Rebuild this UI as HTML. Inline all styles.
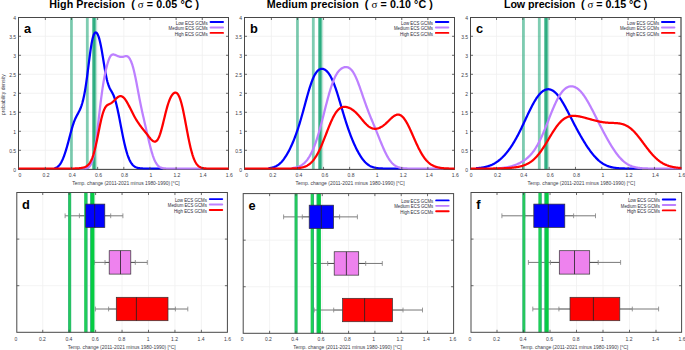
<!DOCTYPE html>
<html><head><meta charset="utf-8"><style>
html,body{margin:0;padding:0;background:#fff;}
svg{display:block;font-family:"Liberation Sans", sans-serif;}
</style></head><body>
<svg width="685" height="350" viewBox="0 0 685 350">
<rect width="685" height="350" fill="#fff"/>
<line x1="45.35" y1="17.5" x2="45.35" y2="169.4" stroke="#f0f0f0" stroke-width="0.8"/>
<line x1="71.50" y1="17.5" x2="71.50" y2="169.4" stroke="#f0f0f0" stroke-width="0.8"/>
<line x1="97.65" y1="17.5" x2="97.65" y2="169.4" stroke="#f0f0f0" stroke-width="0.8"/>
<line x1="123.80" y1="17.5" x2="123.80" y2="169.4" stroke="#f0f0f0" stroke-width="0.8"/>
<line x1="149.95" y1="17.5" x2="149.95" y2="169.4" stroke="#f0f0f0" stroke-width="0.8"/>
<line x1="176.10" y1="17.5" x2="176.10" y2="169.4" stroke="#f0f0f0" stroke-width="0.8"/>
<line x1="202.25" y1="17.5" x2="202.25" y2="169.4" stroke="#f0f0f0" stroke-width="0.8"/>
<line x1="18.5" y1="150.30" x2="228.5" y2="150.30" stroke="#f0f0f0" stroke-width="0.8"/>
<line x1="18.5" y1="131.30" x2="228.5" y2="131.30" stroke="#f0f0f0" stroke-width="0.8"/>
<line x1="18.5" y1="112.30" x2="228.5" y2="112.30" stroke="#f0f0f0" stroke-width="0.8"/>
<line x1="18.5" y1="93.30" x2="228.5" y2="93.30" stroke="#f0f0f0" stroke-width="0.8"/>
<line x1="18.5" y1="74.30" x2="228.5" y2="74.30" stroke="#f0f0f0" stroke-width="0.8"/>
<line x1="18.5" y1="55.30" x2="228.5" y2="55.30" stroke="#f0f0f0" stroke-width="0.8"/>
<line x1="18.5" y1="36.30" x2="228.5" y2="36.30" stroke="#f0f0f0" stroke-width="0.8"/>
<rect x="70.05" y="17.5" width="2.8" height="151.9" fill="#009b65" fill-opacity="0.5"/>
<rect x="85.90" y="17.5" width="2.8" height="151.9" fill="#009b65" fill-opacity="0.5"/>
<rect x="92.00" y="17.5" width="2.6" height="151.9" fill="#009b65" fill-opacity="0.5"/>
<rect x="92.80" y="17.5" width="2.6" height="151.9" fill="#009b65" fill-opacity="0.5"/>
<rect x="93.70" y="17.5" width="2.8" height="151.9" fill="#009b65" fill-opacity="0.5"/>
<rect x="18.5" y="17.5" width="210.00" height="151.90" fill="none" stroke="#484848" stroke-width="1"/>
<path d="M54.50,168.17 L55.00,168.04 L55.50,167.88 L56.00,167.69 L56.50,167.46 L57.00,167.19 L57.50,166.86 L58.00,166.48 L58.50,166.04 L59.00,165.52 L59.50,164.94 L60.00,164.28 L60.50,163.55 L61.00,162.73 L61.50,161.83 L62.00,160.85 L62.50,159.78 L63.00,158.63 L63.50,157.40 L64.00,156.10 L64.50,154.71 L65.00,153.25 L65.50,151.71 L66.00,150.11 L66.50,148.44 L67.00,146.71 L67.50,144.92 L68.00,143.09 L68.50,141.22 L69.00,139.32 L69.50,137.40 L70.00,135.49 L70.50,133.58 L71.00,131.71 L71.50,129.89 L72.00,128.13 L72.50,126.44 L73.00,124.84 L73.50,123.33 L74.00,121.93 L74.50,120.62 L75.00,119.41 L75.50,118.29 L76.00,117.24 L76.50,116.25 L77.00,115.30 L77.50,114.38 L78.00,113.46 L78.50,112.53 L79.00,111.56 L79.50,110.54 L80.00,109.44 L80.50,108.26 L81.00,106.98 L81.50,105.57 L82.00,104.01 L82.50,102.30 L83.00,100.40 L83.50,98.31 L84.00,96.00 L84.50,93.46 L85.00,90.68 L85.50,87.67 L86.00,84.42 L86.50,80.95 L87.00,77.29 L87.50,73.48 L88.00,69.56 L88.50,65.59 L89.00,61.63 L89.50,57.74 L90.00,53.98 L90.50,50.42 L91.00,47.10 L91.50,44.08 L92.00,41.40 L92.50,39.06 L93.00,37.09 L93.50,35.49 L94.00,34.24 L94.50,33.34 L95.00,32.76 L95.50,32.49 L96.00,32.50 L96.50,32.77 L97.00,33.31 L97.50,34.09 L98.00,35.12 L98.50,36.39 L99.00,37.91 L99.50,39.68 L100.00,41.68 L100.50,43.93 L101.00,46.39 L101.50,49.06 L102.00,51.90 L102.50,54.87 L103.00,57.93 L103.50,61.03 L104.00,64.13 L104.50,67.16 L105.00,70.10 L105.50,72.88 L106.00,75.48 L106.50,77.88 L107.00,80.05 L107.50,81.99 L108.00,83.71 L108.50,85.21 L109.00,86.52 L109.50,87.67 L110.00,88.69 L110.50,89.62 L111.00,90.49 L111.50,91.34 L112.00,92.22 L112.50,93.14 L113.00,94.15 L113.50,95.25 L114.00,96.49 L114.50,97.85 L115.00,99.37 L115.50,101.03 L116.00,102.84 L116.50,104.80 L117.00,106.89 L117.50,109.11 L118.00,111.43 L118.50,113.85 L119.00,116.34 L119.50,118.89 L120.00,121.48 L120.50,124.09 L121.00,126.70 L121.50,129.30 L122.00,131.87 L122.50,134.39 L123.00,136.85 L123.50,139.23 L124.00,141.54 L124.50,143.75 L125.00,145.86 L125.50,147.87 L126.00,149.76 L126.50,151.54 L127.00,153.21 L127.50,154.77 L128.00,156.21 L128.50,157.54 L129.00,158.76 L129.50,159.88 L130.00,160.90 L130.50,161.82 L131.00,162.66 L131.50,163.41 L132.00,164.08 L132.50,164.68 L133.00,165.21 L133.50,165.68 L134.00,166.09 L134.50,166.45 L135.00,166.77 L135.50,167.05 L136.00,167.28 L136.50,167.49 L137.00,167.67 L137.50,167.82 L138.00,167.95 L138.50,168.06 L139.00,168.15 L139.50,168.23 L140.00,168.30 L140.50,168.35 L141.00,168.40 L141.50,168.43 L142.00,168.47 L142.50,168.49 L143.00,168.51 L143.50,168.53 L144.00,168.54 L144.50,168.56 L145.00,168.56 L145.50,168.57 L146.00,168.58 L146.50,168.58 L147.00,168.59 L147.50,168.59 L148.00,168.59 L148.50,168.59 L149.00,168.60 L149.50,168.60 L150.00,168.60 L150.50,168.60 L151.00,168.60 L151.50,168.60 L152.00,168.60 L152.50,168.60 L153.00,168.60 L153.50,168.60 L154.00,168.60 L154.50,168.60 L155.00,168.60 L155.50,168.60 L156.00,168.60 L156.50,168.60 L157.00,168.60 L157.50,168.60 L158.00,168.60 L158.50,168.60 L159.00,168.60 L159.50,168.60 L160.00,168.60 L160.50,168.60 L161.00,168.60 L161.50,168.60 L162.00,168.60 L162.50,168.60 L163.00,168.60" fill="none" stroke="#0000ff" stroke-width="2.25" stroke-linejoin="round"/>
<path d="M79.50,168.60 L80.00,168.60 L80.50,168.60 L81.00,168.59 L81.50,168.59 L82.00,168.58 L82.50,168.58 L83.00,168.57 L83.50,168.55 L84.00,168.53 L84.50,168.50 L85.00,168.46 L85.50,168.40 L86.00,168.32 L86.50,168.21 L87.00,168.07 L87.50,167.88 L88.00,167.64 L88.50,167.32 L89.00,166.92 L89.50,166.42 L90.00,165.80 L90.50,165.03 L91.00,164.09 L91.50,162.97 L92.00,161.63 L92.50,160.05 L93.00,158.23 L93.50,156.13 L94.00,153.74 L94.50,151.07 L95.00,148.11 L95.50,144.86 L96.00,141.35 L96.50,137.60 L97.00,133.64 L97.50,129.51 L98.00,125.25 L98.50,120.91 L99.00,116.53 L99.50,112.18 L100.00,107.89 L100.50,103.71 L101.00,99.67 L101.50,95.80 L102.00,92.12 L102.50,88.64 L103.00,85.37 L103.50,82.29 L104.00,79.41 L104.50,76.71 L105.00,74.17 L105.50,71.79 L106.00,69.56 L106.50,67.47 L107.00,65.51 L107.50,63.70 L108.00,62.03 L108.50,60.52 L109.00,59.17 L109.50,57.99 L110.00,56.99 L110.50,56.17 L111.00,55.52 L111.50,55.04 L112.00,54.71 L112.50,54.52 L113.00,54.45 L113.50,54.47 L114.00,54.57 L114.50,54.72 L115.00,54.91 L115.50,55.12 L116.00,55.34 L116.50,55.56 L117.00,55.77 L117.50,55.98 L118.00,56.18 L118.50,56.36 L119.00,56.53 L119.50,56.67 L120.00,56.80 L120.50,56.89 L121.00,56.95 L121.50,56.97 L122.00,56.95 L122.50,56.89 L123.00,56.79 L123.50,56.67 L124.00,56.52 L124.50,56.38 L125.00,56.24 L125.50,56.14 L126.00,56.09 L126.50,56.10 L127.00,56.20 L127.50,56.39 L128.00,56.70 L128.50,57.13 L129.00,57.68 L129.50,58.37 L130.00,59.19 L130.50,60.16 L131.00,61.27 L131.50,62.52 L132.00,63.92 L132.50,65.47 L133.00,67.17 L133.50,69.01 L134.00,71.00 L134.50,73.14 L135.00,75.40 L135.50,77.77 L136.00,80.25 L136.50,82.81 L137.00,85.43 L137.50,88.09 L138.00,90.76 L138.50,93.43 L139.00,96.08 L139.50,98.70 L140.00,101.26 L140.50,103.76 L141.00,106.21 L141.50,108.59 L142.00,110.91 L142.50,113.19 L143.00,115.42 L143.50,117.62 L144.00,119.81 L144.50,121.97 L145.00,124.14 L145.50,126.30 L146.00,128.47 L146.50,130.65 L147.00,132.82 L147.50,135.00 L148.00,137.16 L148.50,139.30 L149.00,141.42 L149.50,143.50 L150.00,145.52 L150.50,147.48 L151.00,149.37 L151.50,151.18 L152.00,152.90 L152.50,154.52 L153.00,156.04 L153.50,157.45 L154.00,158.76 L154.50,159.96 L155.00,161.05 L155.50,162.04 L156.00,162.93 L156.50,163.73 L157.00,164.43 L157.50,165.06 L158.00,165.60 L158.50,166.08 L159.00,166.49 L159.50,166.84 L160.00,167.15 L160.50,167.40 L161.00,167.62 L161.50,167.80 L162.00,167.95 L162.50,168.08 L163.00,168.18 L163.50,168.27 L164.00,168.34 L164.50,168.39 L165.00,168.44 L165.50,168.47 L166.00,168.50 L166.50,168.52 L167.00,168.54 L167.50,168.56 L168.00,168.57 L168.50,168.57 L169.00,168.58 L169.50,168.59 L170.00,168.59 L170.50,168.59 L171.00,168.59 L171.50,168.60 L172.00,168.60 L172.50,168.60 L173.00,168.60 L173.50,168.60 L174.00,168.60 L174.50,168.60 L175.00,168.60 L175.50,168.60 L176.00,168.60 L176.50,168.60 L177.00,168.60 L177.50,168.60 L178.00,168.60 L178.50,168.60 L179.00,168.60 L179.50,168.60 L180.00,168.60 L180.50,168.60 L181.00,168.60 L181.50,168.60 L182.00,168.60 L182.50,168.60 L183.00,168.60 L183.50,168.60 L184.00,168.60 L184.50,168.60 L185.00,168.60 L185.50,168.60 L186.00,168.60 L186.50,168.60 L187.00,168.60 L187.50,168.60 L188.00,168.60 L188.50,168.60 L189.00,168.60 L189.50,168.60 L190.00,168.60 L190.50,168.60 L191.00,168.60 L191.50,168.60 L192.00,168.60 L192.50,168.60 L193.00,168.60 L193.50,168.60 L194.00,168.60 L194.50,168.60 L195.00,168.60 L195.50,168.60 L196.00,168.60 L196.50,168.60 L197.00,168.60 L197.50,168.60 L198.00,168.60 L198.50,168.60 L199.00,168.60 L199.50,168.60 L200.00,168.60 L200.50,168.60 L201.00,168.60 L201.50,168.60 L202.00,168.60 L202.50,168.60 L203.00,168.60 L203.50,168.60" fill="none" stroke="#bd80ff" stroke-width="2.25" stroke-linejoin="round"/>
<path d="M18.50,168.60 L19.00,168.60 L19.50,168.60 L20.00,168.60 L20.50,168.60 L21.00,168.60 L21.50,168.60 L22.00,168.60 L22.50,168.60 L23.00,168.60 L23.50,168.60 L24.00,168.60 L24.50,168.60 L25.00,168.60 L25.50,168.60 L26.00,168.60 L26.50,168.60 L27.00,168.60 L27.50,168.60 L28.00,168.60 L28.50,168.60 L29.00,168.60 L29.50,168.60 L30.00,168.60 L30.50,168.60 L31.00,168.60 L31.50,168.60 L32.00,168.60 L32.50,168.60 L33.00,168.60 L33.50,168.60 L34.00,168.60 L34.50,168.60 L35.00,168.60 L35.50,168.60 L36.00,168.60 L36.50,168.60 L37.00,168.60 L37.50,168.60 L38.00,168.60 L38.50,168.60 L39.00,168.60 L39.50,168.60 L40.00,168.60 L40.50,168.60 L41.00,168.60 L41.50,168.60 L42.00,168.60 L42.50,168.60 L43.00,168.60 L43.50,168.60 L44.00,168.60 L44.50,168.60 L45.00,168.60 L45.50,168.60 L46.00,168.60 L46.50,168.60 L47.00,168.60 L47.50,168.60 L48.00,168.60 L48.50,168.60 L49.00,168.60 L49.50,168.60 L50.00,168.60 L50.50,168.60 L51.00,168.60 L51.50,168.60 L52.00,168.60 L52.50,168.60 L53.00,168.60 L53.50,168.60 L54.00,168.60 L54.50,168.60 L55.00,168.60 L55.50,168.60 L56.00,168.60 L56.50,168.60 L57.00,168.60 L57.50,168.60 L58.00,168.60 L58.50,168.60 L59.00,168.60 L59.50,168.60 L60.00,168.60 L60.50,168.60 L61.00,168.60 L61.50,168.60 L62.00,168.60 L62.50,168.60 L63.00,168.60 L63.50,168.60 L64.00,168.60 L64.50,168.60 L65.00,168.60 L65.50,168.59 L66.00,168.59 L66.50,168.59 L67.00,168.59 L67.50,168.59 L68.00,168.59 L68.50,168.59 L69.00,168.58 L69.50,168.58 L70.00,168.58 L70.50,168.57 L71.00,168.57 L71.50,168.56 L72.00,168.56 L72.50,168.55 L73.00,168.54 L73.50,168.53 L74.00,168.52 L74.50,168.51 L75.00,168.49 L75.50,168.47 L76.00,168.46 L76.50,168.43 L77.00,168.41 L77.50,168.38 L78.00,168.35 L78.50,168.31 L79.00,168.27 L79.50,168.22 L80.00,168.17 L80.50,168.11 L81.00,168.04 L81.50,167.96 L82.00,167.87 L82.50,167.77 L83.00,167.65 L83.50,167.52 L84.00,167.37 L84.50,167.20 L85.00,167.00 L85.50,166.78 L86.00,166.52 L86.50,166.23 L87.00,165.89 L87.50,165.50 L88.00,165.06 L88.50,164.56 L89.00,163.99 L89.50,163.33 L90.00,162.59 L90.50,161.76 L91.00,160.82 L91.50,159.77 L92.00,158.61 L92.50,157.31 L93.00,155.89 L93.50,154.33 L94.00,152.64 L94.50,150.82 L95.00,148.86 L95.50,146.78 L96.00,144.59 L96.50,142.30 L97.00,139.92 L97.50,137.48 L98.00,134.99 L98.50,132.48 L99.00,129.98 L99.50,127.50 L100.00,125.08 L100.50,122.73 L101.00,120.48 L101.50,118.36 L102.00,116.38 L102.50,114.55 L103.00,112.88 L103.50,111.39 L104.00,110.07 L104.50,108.92 L105.00,107.94 L105.50,107.11 L106.00,106.41 L106.50,105.84 L107.00,105.38 L107.50,105.00 L108.00,104.68 L108.50,104.41 L109.00,104.16 L109.50,103.93 L110.00,103.69 L110.50,103.44 L111.00,103.16 L111.50,102.84 L112.00,102.50 L112.50,102.11 L113.00,101.69 L113.50,101.23 L114.00,100.75 L114.50,100.25 L115.00,99.75 L115.50,99.24 L116.00,98.74 L116.50,98.26 L117.00,97.80 L117.50,97.39 L118.00,97.02 L118.50,96.71 L119.00,96.45 L119.50,96.26 L120.00,96.15 L120.50,96.10 L121.00,96.14 L121.50,96.25 L122.00,96.44 L122.50,96.71 L123.00,97.06 L123.50,97.48 L124.00,97.97 L124.50,98.53 L125.00,99.15 L125.50,99.84 L126.00,100.58 L126.50,101.37 L127.00,102.20 L127.50,103.08 L128.00,103.99 L128.50,104.93 L129.00,105.89 L129.50,106.87 L130.00,107.86 L130.50,108.86 L131.00,109.86 L131.50,110.87 L132.00,111.86 L132.50,112.85 L133.00,113.83 L133.50,114.79 L134.00,115.73 L134.50,116.66 L135.00,117.56 L135.50,118.44 L136.00,119.30 L136.50,120.13 L137.00,120.94 L137.50,121.73 L138.00,122.49 L138.50,123.23 L139.00,123.95 L139.50,124.66 L140.00,125.34 L140.50,126.01 L141.00,126.67 L141.50,127.32 L142.00,127.96 L142.50,128.59 L143.00,129.22 L143.50,129.84 L144.00,130.47 L144.50,131.09 L145.00,131.72 L145.50,132.35 L146.00,132.99 L146.50,133.63 L147.00,134.27 L147.50,134.91 L148.00,135.56 L148.50,136.20 L149.00,136.83 L149.50,137.45 L150.00,138.06 L150.50,138.65 L151.00,139.21 L151.50,139.73 L152.00,140.21 L152.50,140.64 L153.00,141.01 L153.50,141.30 L154.00,141.51 L154.50,141.63 L155.00,141.64 L155.50,141.54 L156.00,141.31 L156.50,140.95 L157.00,140.45 L157.50,139.81 L158.00,139.01 L158.50,138.07 L159.00,136.97 L159.50,135.73 L160.00,134.34 L160.50,132.81 L161.00,131.17 L161.50,129.41 L162.00,127.55 L162.50,125.61 L163.00,123.61 L163.50,121.57 L164.00,119.50 L164.50,117.43 L165.00,115.37 L165.50,113.35 L166.00,111.38 L166.50,109.48 L167.00,107.66 L167.50,105.92 L168.00,104.29 L168.50,102.76 L169.00,101.33 L169.50,100.02 L170.00,98.82 L170.50,97.74 L171.00,96.76 L171.50,95.88 L172.00,95.11 L172.50,94.45 L173.00,93.88 L173.50,93.42 L174.00,93.06 L174.50,92.80 L175.00,92.66 L175.50,92.62 L176.00,92.71 L176.50,92.93 L177.00,93.28 L177.50,93.78 L178.00,94.42 L178.50,95.23 L179.00,96.20 L179.50,97.33 L180.00,98.63 L180.50,100.11 L181.00,101.75 L181.50,103.55 L182.00,105.51 L182.50,107.61 L183.00,109.84 L183.50,112.19 L184.00,114.64 L184.50,117.17 L185.00,119.77 L185.50,122.42 L186.00,125.09 L186.50,127.77 L187.00,130.44 L187.50,133.08 L188.00,135.67 L188.50,138.19 L189.00,140.64 L189.50,143.00 L190.00,145.25 L190.50,147.40 L191.00,149.43 L191.50,151.34 L192.00,153.12 L192.50,154.78 L193.00,156.31 L193.50,157.72 L194.00,159.01 L194.50,160.18 L195.00,161.24 L195.50,162.20 L196.00,163.05 L196.50,163.81 L197.00,164.49 L197.50,165.08 L198.00,165.60 L198.50,166.06 L199.00,166.45 L199.50,166.79 L200.00,167.09 L200.50,167.34 L201.00,167.55 L201.50,167.73 L202.00,167.89 L202.50,168.02 L203.00,168.12 L203.50,168.21 L204.00,168.29 L204.50,168.35 L205.00,168.40 L205.50,168.44 L206.00,168.47 L206.50,168.50 L207.00,168.52 L207.50,168.54 L208.00,168.55 L208.50,168.56 L209.00,168.57 L209.50,168.58 L210.00,168.58 L210.50,168.59 L211.00,168.59 L211.50,168.59 L212.00,168.59 L212.50,168.60 L213.00,168.60 L213.50,168.60 L214.00,168.60 L214.50,168.60 L215.00,168.60 L215.50,168.60 L216.00,168.60 L216.50,168.60 L217.00,168.60 L217.50,168.60 L218.00,168.60 L218.50,168.60 L219.00,168.60 L219.50,168.60 L220.00,168.60 L220.50,168.60 L221.00,168.60 L221.50,168.60 L222.00,168.60 L222.50,168.60 L223.00,168.60 L223.50,168.60 L224.00,168.60 L224.50,168.60 L225.00,168.60 L225.50,168.60 L226.00,168.60 L226.50,168.60 L227.00,168.60 L227.50,168.60 L228.00,168.60 L228.50,168.60 L229.00,168.60" fill="none" stroke="#ff0000" stroke-width="2.25" stroke-linejoin="round"/>
<rect x="18.5" y="17.5" width="210.00" height="151.90" fill="none" stroke="#484848" stroke-width="1" stroke-opacity="0.45"/>
<line x1="45.35" y1="169.4" x2="45.35" y2="166.9" stroke="#484848" stroke-width="0.8"/>
<line x1="45.35" y1="17.5" x2="45.35" y2="20.0" stroke="#484848" stroke-width="0.8"/>
<line x1="71.50" y1="169.4" x2="71.50" y2="166.9" stroke="#484848" stroke-width="0.8"/>
<line x1="71.50" y1="17.5" x2="71.50" y2="20.0" stroke="#484848" stroke-width="0.8"/>
<line x1="97.65" y1="169.4" x2="97.65" y2="166.9" stroke="#484848" stroke-width="0.8"/>
<line x1="97.65" y1="17.5" x2="97.65" y2="20.0" stroke="#484848" stroke-width="0.8"/>
<line x1="123.80" y1="169.4" x2="123.80" y2="166.9" stroke="#484848" stroke-width="0.8"/>
<line x1="123.80" y1="17.5" x2="123.80" y2="20.0" stroke="#484848" stroke-width="0.8"/>
<line x1="149.95" y1="169.4" x2="149.95" y2="166.9" stroke="#484848" stroke-width="0.8"/>
<line x1="149.95" y1="17.5" x2="149.95" y2="20.0" stroke="#484848" stroke-width="0.8"/>
<line x1="176.10" y1="169.4" x2="176.10" y2="166.9" stroke="#484848" stroke-width="0.8"/>
<line x1="176.10" y1="17.5" x2="176.10" y2="20.0" stroke="#484848" stroke-width="0.8"/>
<line x1="202.25" y1="169.4" x2="202.25" y2="166.9" stroke="#484848" stroke-width="0.8"/>
<line x1="202.25" y1="17.5" x2="202.25" y2="20.0" stroke="#484848" stroke-width="0.8"/>
<line x1="18.5" y1="150.30" x2="21.0" y2="150.30" stroke="#484848" stroke-width="0.8"/>
<line x1="228.5" y1="150.30" x2="226.0" y2="150.30" stroke="#484848" stroke-width="0.8"/>
<line x1="18.5" y1="131.30" x2="21.0" y2="131.30" stroke="#484848" stroke-width="0.8"/>
<line x1="228.5" y1="131.30" x2="226.0" y2="131.30" stroke="#484848" stroke-width="0.8"/>
<line x1="18.5" y1="112.30" x2="21.0" y2="112.30" stroke="#484848" stroke-width="0.8"/>
<line x1="228.5" y1="112.30" x2="226.0" y2="112.30" stroke="#484848" stroke-width="0.8"/>
<line x1="18.5" y1="93.30" x2="21.0" y2="93.30" stroke="#484848" stroke-width="0.8"/>
<line x1="228.5" y1="93.30" x2="226.0" y2="93.30" stroke="#484848" stroke-width="0.8"/>
<line x1="18.5" y1="74.30" x2="21.0" y2="74.30" stroke="#484848" stroke-width="0.8"/>
<line x1="228.5" y1="74.30" x2="226.0" y2="74.30" stroke="#484848" stroke-width="0.8"/>
<line x1="18.5" y1="55.30" x2="21.0" y2="55.30" stroke="#484848" stroke-width="0.8"/>
<line x1="228.5" y1="55.30" x2="226.0" y2="55.30" stroke="#484848" stroke-width="0.8"/>
<line x1="18.5" y1="36.30" x2="21.0" y2="36.30" stroke="#484848" stroke-width="0.8"/>
<line x1="228.5" y1="36.30" x2="226.0" y2="36.30" stroke="#484848" stroke-width="0.8"/>
<text x="16.1" y="171.8" font-size="5" fill="#3c3c48" text-anchor="end">0</text>
<text x="16.1" y="152.8" font-size="5" fill="#3c3c48" text-anchor="end">0.5</text>
<text x="16.1" y="133.8" font-size="5" fill="#3c3c48" text-anchor="end">1</text>
<text x="16.1" y="114.8" font-size="5" fill="#3c3c48" text-anchor="end">1.5</text>
<text x="16.1" y="95.8" font-size="5" fill="#3c3c48" text-anchor="end">2</text>
<text x="16.1" y="76.8" font-size="5" fill="#3c3c48" text-anchor="end">2.5</text>
<text x="16.1" y="57.8" font-size="5" fill="#3c3c48" text-anchor="end">3</text>
<text x="16.1" y="38.8" font-size="5" fill="#3c3c48" text-anchor="end">3.5</text>
<text x="16.1" y="19.8" font-size="5" fill="#3c3c48" text-anchor="end">4</text>
<text x="20.0" y="176.9" font-size="5" fill="#3c3c48" text-anchor="middle">0</text>
<text x="46.1" y="176.9" font-size="5" fill="#3c3c48" text-anchor="middle">0.2</text>
<text x="72.3" y="176.9" font-size="5" fill="#3c3c48" text-anchor="middle">0.4</text>
<text x="98.5" y="176.9" font-size="5" fill="#3c3c48" text-anchor="middle">0.6</text>
<text x="124.6" y="176.9" font-size="5" fill="#3c3c48" text-anchor="middle">0.8</text>
<text x="150.8" y="176.9" font-size="5" fill="#3c3c48" text-anchor="middle">1</text>
<text x="176.9" y="176.9" font-size="5" fill="#3c3c48" text-anchor="middle">1.2</text>
<text x="203.1" y="176.9" font-size="5" fill="#3c3c48" text-anchor="middle">1.4</text>
<text x="229.2" y="176.9" font-size="5" fill="#3c3c48" text-anchor="middle">1.6</text>
<text x="72.3" y="185.0" font-size="5.2" fill="#3c3c48" textLength="107.3" lengthAdjust="spacingAndGlyphs">Temp. change (2011-2021 minus 1980-1990) [°C]</text>
<text x="24.1" y="33.3" font-size="12.8" font-weight="bold" fill="#000">a</text>
<text x="175.7" y="24.6" font-size="5" fill="#2a2a38" textLength="32.0" lengthAdjust="spacingAndGlyphs">Low ECS GCMs</text>
<line x1="210.55" y1="22.00" x2="223.05" y2="22.00" stroke="#0000ff" stroke-width="1.9" stroke-linecap="round"/>
<text x="168.6" y="30.1" font-size="5" fill="#2a2a38" textLength="39.1" lengthAdjust="spacingAndGlyphs">Medium ECS GCMs</text>
<line x1="210.55" y1="27.45" x2="223.05" y2="27.45" stroke="#bd80ff" stroke-width="1.9" stroke-linecap="round"/>
<text x="174.7" y="35.5" font-size="5" fill="#2a2a38" textLength="33.0" lengthAdjust="spacingAndGlyphs">High ECS GCMs</text>
<line x1="210.55" y1="32.90" x2="223.05" y2="32.90" stroke="#ff0000" stroke-width="1.9" stroke-linecap="round"/>
<text x="49.2" y="7.8" font-size="10.7" font-weight="bold" fill="#000" style="white-space:pre" textLength="149.92" lengthAdjust="spacing">High Precision  ( <tspan font-family="Liberation Serif" font-weight="normal" font-size="11">σ</tspan> = 0.05 °C )</text>
<line x1="271.38" y1="17.5" x2="271.38" y2="169.4" stroke="#f0f0f0" stroke-width="0.8"/>
<line x1="297.46" y1="17.5" x2="297.46" y2="169.4" stroke="#f0f0f0" stroke-width="0.8"/>
<line x1="323.54" y1="17.5" x2="323.54" y2="169.4" stroke="#f0f0f0" stroke-width="0.8"/>
<line x1="349.62" y1="17.5" x2="349.62" y2="169.4" stroke="#f0f0f0" stroke-width="0.8"/>
<line x1="375.70" y1="17.5" x2="375.70" y2="169.4" stroke="#f0f0f0" stroke-width="0.8"/>
<line x1="401.78" y1="17.5" x2="401.78" y2="169.4" stroke="#f0f0f0" stroke-width="0.8"/>
<line x1="427.86" y1="17.5" x2="427.86" y2="169.4" stroke="#f0f0f0" stroke-width="0.8"/>
<line x1="244.5" y1="150.30" x2="454.5" y2="150.30" stroke="#f0f0f0" stroke-width="0.8"/>
<line x1="244.5" y1="131.30" x2="454.5" y2="131.30" stroke="#f0f0f0" stroke-width="0.8"/>
<line x1="244.5" y1="112.30" x2="454.5" y2="112.30" stroke="#f0f0f0" stroke-width="0.8"/>
<line x1="244.5" y1="93.30" x2="454.5" y2="93.30" stroke="#f0f0f0" stroke-width="0.8"/>
<line x1="244.5" y1="74.30" x2="454.5" y2="74.30" stroke="#f0f0f0" stroke-width="0.8"/>
<line x1="244.5" y1="55.30" x2="454.5" y2="55.30" stroke="#f0f0f0" stroke-width="0.8"/>
<line x1="244.5" y1="36.30" x2="454.5" y2="36.30" stroke="#f0f0f0" stroke-width="0.8"/>
<rect x="296.05" y="17.5" width="2.8" height="151.9" fill="#009b65" fill-opacity="0.5"/>
<rect x="311.90" y="17.5" width="2.8" height="151.9" fill="#009b65" fill-opacity="0.5"/>
<rect x="318.00" y="17.5" width="2.6" height="151.9" fill="#009b65" fill-opacity="0.5"/>
<rect x="318.80" y="17.5" width="2.6" height="151.9" fill="#009b65" fill-opacity="0.5"/>
<rect x="319.70" y="17.5" width="2.8" height="151.9" fill="#009b65" fill-opacity="0.5"/>
<rect x="244.5" y="17.5" width="210.00" height="151.90" fill="none" stroke="#484848" stroke-width="1"/>
<path d="M268.50,168.21 L269.00,168.16 L269.50,168.09 L270.00,168.02 L270.50,167.94 L271.00,167.84 L271.50,167.74 L272.00,167.63 L272.50,167.50 L273.00,167.36 L273.50,167.21 L274.00,167.04 L274.50,166.85 L275.00,166.65 L275.50,166.43 L276.00,166.18 L276.50,165.92 L277.00,165.63 L277.50,165.33 L278.00,165.00 L278.50,164.64 L279.00,164.26 L279.50,163.85 L280.00,163.41 L280.50,162.95 L281.00,162.46 L281.50,161.94 L282.00,161.39 L282.50,160.82 L283.00,160.21 L283.50,159.57 L284.00,158.91 L284.50,158.21 L285.00,157.48 L285.50,156.73 L286.00,155.95 L286.50,155.13 L287.00,154.29 L287.50,153.42 L288.00,152.53 L288.50,151.60 L289.00,150.65 L289.50,149.67 L290.00,148.66 L290.50,147.63 L291.00,146.56 L291.50,145.47 L292.00,144.35 L292.50,143.21 L293.00,142.03 L293.50,140.83 L294.00,139.59 L294.50,138.32 L295.00,137.02 L295.50,135.69 L296.00,134.33 L296.50,132.93 L297.00,131.49 L297.50,130.02 L298.00,128.52 L298.50,126.98 L299.00,125.41 L299.50,123.80 L300.00,122.16 L300.50,120.48 L301.00,118.78 L301.50,117.04 L302.00,115.28 L302.50,113.50 L303.00,111.69 L303.50,109.87 L304.00,108.04 L304.50,106.19 L305.00,104.35 L305.50,102.50 L306.00,100.66 L306.50,98.83 L307.00,97.02 L307.50,95.23 L308.00,93.47 L308.50,91.74 L309.00,90.05 L309.50,88.41 L310.00,86.82 L310.50,85.28 L311.00,83.79 L311.50,82.38 L312.00,81.02 L312.50,79.74 L313.00,78.53 L313.50,77.38 L314.00,76.32 L314.50,75.33 L315.00,74.41 L315.50,73.57 L316.00,72.80 L316.50,72.11 L317.00,71.49 L317.50,70.94 L318.00,70.46 L318.50,70.04 L319.00,69.69 L319.50,69.40 L320.00,69.17 L320.50,69.00 L321.00,68.88 L321.50,68.82 L322.00,68.81 L322.50,68.85 L323.00,68.94 L323.50,69.08 L324.00,69.26 L324.50,69.50 L325.00,69.78 L325.50,70.11 L326.00,70.49 L326.50,70.92 L327.00,71.40 L327.50,71.94 L328.00,72.52 L328.50,73.16 L329.00,73.85 L329.50,74.60 L330.00,75.40 L330.50,76.27 L331.00,77.19 L331.50,78.17 L332.00,79.20 L332.50,80.29 L333.00,81.44 L333.50,82.65 L334.00,83.91 L334.50,85.22 L335.00,86.58 L335.50,87.99 L336.00,89.44 L336.50,90.94 L337.00,92.47 L337.50,94.03 L338.00,95.63 L338.50,97.25 L339.00,98.90 L339.50,100.56 L340.00,102.23 L340.50,103.92 L341.00,105.61 L341.50,107.30 L342.00,108.99 L342.50,110.68 L343.00,112.35 L343.50,114.02 L344.00,115.67 L344.50,117.30 L345.00,118.92 L345.50,120.51 L346.00,122.08 L346.50,123.62 L347.00,125.14 L347.50,126.64 L348.00,128.11 L348.50,129.55 L349.00,130.96 L349.50,132.34 L350.00,133.70 L350.50,135.03 L351.00,136.33 L351.50,137.61 L352.00,138.86 L352.50,140.08 L353.00,141.27 L353.50,142.44 L354.00,143.58 L354.50,144.70 L355.00,145.79 L355.50,146.86 L356.00,147.90 L356.50,148.91 L357.00,149.90 L357.50,150.86 L358.00,151.80 L358.50,152.71 L359.00,153.59 L359.50,154.44 L360.00,155.27 L360.50,156.07 L361.00,156.84 L361.50,157.58 L362.00,158.29 L362.50,158.98 L363.00,159.63 L363.50,160.26 L364.00,160.86 L364.50,161.43 L365.00,161.96 L365.50,162.48 L366.00,162.96 L366.50,163.42 L367.00,163.84 L367.50,164.25 L368.00,164.62 L368.50,164.98 L369.00,165.30 L369.50,165.61 L370.00,165.89 L370.50,166.15 L371.00,166.39 L371.50,166.62 L372.00,166.82 L372.50,167.01 L373.00,167.18 L373.50,167.33 L374.00,167.47 L374.50,167.60 L375.00,167.71 L375.50,167.82 L376.00,167.91 L376.50,168.00 L377.00,168.07 L377.50,168.14 L378.00,168.20 L378.50,168.25 L379.00,168.29 L379.50,168.34 L380.00,168.37 L380.50,168.40 L381.00,168.43 L381.50,168.45 L382.00,168.48 L382.50,168.49 L383.00,168.51 L383.50,168.52 L384.00,168.53 L384.50,168.54 L385.00,168.55 L385.50,168.56 L386.00,168.57 L386.50,168.57 L387.00,168.58 L387.50,168.58 L388.00,168.58 L388.50,168.59 L389.00,168.59 L389.50,168.59 L390.00,168.59 L390.50,168.59 L391.00,168.60 L391.50,168.60 L392.00,168.60 L392.50,168.60 L393.00,168.60 L393.50,168.60 L394.00,168.60 L394.50,168.60 L395.00,168.60 L395.50,168.60 L396.00,168.60 L396.50,168.60 L397.00,168.60 L397.50,168.60 L398.00,168.60 L398.50,168.60 L399.00,168.60 L399.50,168.60 L400.00,168.60 L400.50,168.60 L401.00,168.60 L401.50,168.60 L402.00,168.60 L402.50,168.60 L403.00,168.60" fill="none" stroke="#0000ff" stroke-width="2.25" stroke-linejoin="round"/>
<path d="M291.50,168.21 L292.00,168.16 L292.50,168.10 L293.00,168.04 L293.50,167.96 L294.00,167.88 L294.50,167.79 L295.00,167.69 L295.50,167.58 L296.00,167.47 L296.50,167.33 L297.00,167.19 L297.50,167.03 L298.00,166.86 L298.50,166.67 L299.00,166.47 L299.50,166.25 L300.00,166.01 L300.50,165.75 L301.00,165.47 L301.50,165.17 L302.00,164.85 L302.50,164.50 L303.00,164.13 L303.50,163.73 L304.00,163.30 L304.50,162.85 L305.00,162.36 L305.50,161.84 L306.00,161.29 L306.50,160.71 L307.00,160.09 L307.50,159.44 L308.00,158.74 L308.50,158.01 L309.00,157.24 L309.50,156.42 L310.00,155.57 L310.50,154.66 L311.00,153.72 L311.50,152.73 L312.00,151.69 L312.50,150.60 L313.00,149.47 L313.50,148.28 L314.00,147.05 L314.50,145.76 L315.00,144.43 L315.50,143.05 L316.00,141.61 L316.50,140.13 L317.00,138.60 L317.50,137.02 L318.00,135.40 L318.50,133.73 L319.00,132.02 L319.50,130.27 L320.00,128.48 L320.50,126.66 L321.00,124.80 L321.50,122.92 L322.00,121.01 L322.50,119.08 L323.00,117.13 L323.50,115.17 L324.00,113.20 L324.50,111.23 L325.00,109.26 L325.50,107.29 L326.00,105.34 L326.50,103.41 L327.00,101.49 L327.50,99.61 L328.00,97.75 L328.50,95.93 L329.00,94.15 L329.50,92.42 L330.00,90.73 L330.50,89.10 L331.00,87.52 L331.50,86.00 L332.00,84.54 L332.50,83.14 L333.00,81.80 L333.50,80.54 L334.00,79.33 L334.50,78.20 L335.00,77.12 L335.50,76.12 L336.00,75.17 L336.50,74.29 L337.00,73.48 L337.50,72.72 L338.00,72.01 L338.50,71.37 L339.00,70.77 L339.50,70.23 L340.00,69.74 L340.50,69.29 L341.00,68.89 L341.50,68.53 L342.00,68.21 L342.50,67.93 L343.00,67.69 L343.50,67.48 L344.00,67.32 L344.50,67.19 L345.00,67.10 L345.50,67.05 L346.00,67.04 L346.50,67.07 L347.00,67.14 L347.50,67.25 L348.00,67.41 L348.50,67.62 L349.00,67.88 L349.50,68.19 L350.00,68.55 L350.50,68.97 L351.00,69.45 L351.50,69.99 L352.00,70.59 L352.50,71.25 L353.00,71.97 L353.50,72.76 L354.00,73.61 L354.50,74.52 L355.00,75.49 L355.50,76.51 L356.00,77.60 L356.50,78.73 L357.00,79.92 L357.50,81.16 L358.00,82.43 L358.50,83.75 L359.00,85.10 L359.50,86.48 L360.00,87.88 L360.50,89.31 L361.00,90.75 L361.50,92.20 L362.00,93.66 L362.50,95.12 L363.00,96.58 L363.50,98.03 L364.00,99.48 L364.50,100.91 L365.00,102.33 L365.50,103.74 L366.00,105.12 L366.50,106.49 L367.00,107.84 L367.50,109.18 L368.00,110.49 L368.50,111.79 L369.00,113.07 L369.50,114.33 L370.00,115.58 L370.50,116.82 L371.00,118.05 L371.50,119.27 L372.00,120.48 L372.50,121.69 L373.00,122.90 L373.50,124.11 L374.00,125.32 L374.50,126.53 L375.00,127.75 L375.50,128.96 L376.00,130.19 L376.50,131.42 L377.00,132.65 L377.50,133.89 L378.00,135.13 L378.50,136.37 L379.00,137.61 L379.50,138.85 L380.00,140.09 L380.50,141.32 L381.00,142.54 L381.50,143.75 L382.00,144.95 L382.50,146.14 L383.00,147.30 L383.50,148.45 L384.00,149.57 L384.50,150.67 L385.00,151.73 L385.50,152.77 L386.00,153.78 L386.50,154.75 L387.00,155.68 L387.50,156.58 L388.00,157.45 L388.50,158.27 L389.00,159.05 L389.50,159.80 L390.00,160.50 L390.50,161.17 L391.00,161.80 L391.50,162.39 L392.00,162.94 L392.50,163.45 L393.00,163.93 L393.50,164.38 L394.00,164.79 L394.50,165.17 L395.00,165.52 L395.50,165.84 L396.00,166.13 L396.50,166.40 L397.00,166.64 L397.50,166.86 L398.00,167.06 L398.50,167.24 L399.00,167.40 L399.50,167.55 L400.00,167.68 L400.50,167.79 L401.00,167.90 L401.50,167.99 L402.00,168.07 L402.50,168.14 L403.00,168.20 L403.50,168.26 L404.00,168.31 L404.50,168.35 L405.00,168.38 L405.50,168.42 L406.00,168.44 L406.50,168.47 L407.00,168.49 L407.50,168.50 L408.00,168.52 L408.50,168.53 L409.00,168.54 L409.50,168.55 L410.00,168.56 L410.50,168.57 L411.00,168.57 L411.50,168.58 L412.00,168.58 L412.50,168.58 L413.00,168.59 L413.50,168.59 L414.00,168.59 L414.50,168.59 L415.00,168.59 L415.50,168.60 L416.00,168.60 L416.50,168.60 L417.00,168.60 L417.50,168.60 L418.00,168.60 L418.50,168.60 L419.00,168.60 L419.50,168.60 L420.00,168.60 L420.50,168.60 L421.00,168.60 L421.50,168.60 L422.00,168.60 L422.50,168.60 L423.00,168.60 L423.50,168.60 L424.00,168.60 L424.50,168.60 L425.00,168.60 L425.50,168.60 L426.00,168.60 L426.50,168.60 L427.00,168.60 L427.50,168.60 L428.00,168.60 L428.50,168.60 L429.00,168.60 L429.50,168.60 L430.00,168.60 L430.50,168.60 L431.00,168.60 L431.50,168.60 L432.00,168.60 L432.50,168.60 L433.00,168.60 L433.50,168.60 L434.00,168.60 L434.50,168.60 L435.00,168.60 L435.50,168.60 L436.00,168.60 L436.50,168.60 L437.00,168.60 L437.50,168.60 L438.00,168.60 L438.50,168.60 L439.00,168.60 L439.50,168.60 L440.00,168.60 L440.50,168.60 L441.00,168.60 L441.50,168.60 L442.00,168.60 L442.50,168.60 L443.00,168.60 L443.50,168.60" fill="none" stroke="#bd80ff" stroke-width="2.25" stroke-linejoin="round"/>
<path d="M244.50,168.60 L245.00,168.60 L245.50,168.60 L246.00,168.60 L246.50,168.60 L247.00,168.60 L247.50,168.60 L248.00,168.60 L248.50,168.60 L249.00,168.60 L249.50,168.60 L250.00,168.60 L250.50,168.60 L251.00,168.60 L251.50,168.60 L252.00,168.60 L252.50,168.60 L253.00,168.60 L253.50,168.60 L254.00,168.60 L254.50,168.60 L255.00,168.60 L255.50,168.60 L256.00,168.60 L256.50,168.60 L257.00,168.60 L257.50,168.60 L258.00,168.60 L258.50,168.60 L259.00,168.60 L259.50,168.60 L260.00,168.60 L260.50,168.60 L261.00,168.60 L261.50,168.60 L262.00,168.60 L262.50,168.60 L263.00,168.60 L263.50,168.60 L264.00,168.60 L264.50,168.60 L265.00,168.60 L265.50,168.60 L266.00,168.60 L266.50,168.60 L267.00,168.60 L267.50,168.60 L268.00,168.60 L268.50,168.60 L269.00,168.60 L269.50,168.60 L270.00,168.60 L270.50,168.60 L271.00,168.60 L271.50,168.60 L272.00,168.60 L272.50,168.60 L273.00,168.60 L273.50,168.60 L274.00,168.60 L274.50,168.60 L275.00,168.60 L275.50,168.60 L276.00,168.60 L276.50,168.60 L277.00,168.60 L277.50,168.60 L278.00,168.60 L278.50,168.60 L279.00,168.60 L279.50,168.60 L280.00,168.60 L280.50,168.60 L281.00,168.60 L281.50,168.60 L282.00,168.60 L282.50,168.59 L283.00,168.59 L283.50,168.59 L284.00,168.59 L284.50,168.59 L285.00,168.59 L285.50,168.59 L286.00,168.58 L286.50,168.58 L287.00,168.58 L287.50,168.57 L288.00,168.57 L288.50,168.56 L289.00,168.56 L289.50,168.55 L290.00,168.54 L290.50,168.54 L291.00,168.53 L291.50,168.51 L292.00,168.50 L292.50,168.49 L293.00,168.47 L293.50,168.45 L294.00,168.43 L294.50,168.41 L295.00,168.39 L295.50,168.36 L296.00,168.32 L296.50,168.29 L297.00,168.25 L297.50,168.20 L298.00,168.15 L298.50,168.10 L299.00,168.04 L299.50,167.97 L300.00,167.89 L300.50,167.81 L301.00,167.72 L301.50,167.62 L302.00,167.51 L302.50,167.38 L303.00,167.25 L303.50,167.11 L304.00,166.95 L304.50,166.77 L305.00,166.58 L305.50,166.38 L306.00,166.16 L306.50,165.92 L307.00,165.66 L307.50,165.38 L308.00,165.07 L308.50,164.75 L309.00,164.40 L309.50,164.02 L310.00,163.62 L310.50,163.19 L311.00,162.74 L311.50,162.25 L312.00,161.74 L312.50,161.19 L313.00,160.61 L313.50,160.00 L314.00,159.35 L314.50,158.67 L315.00,157.95 L315.50,157.20 L316.00,156.42 L316.50,155.60 L317.00,154.74 L317.50,153.85 L318.00,152.92 L318.50,151.96 L319.00,150.96 L319.50,149.94 L320.00,148.88 L320.50,147.79 L321.00,146.67 L321.50,145.52 L322.00,144.35 L322.50,143.15 L323.00,141.93 L323.50,140.70 L324.00,139.44 L324.50,138.18 L325.00,136.90 L325.50,135.61 L326.00,134.32 L326.50,133.03 L327.00,131.74 L327.50,130.46 L328.00,129.18 L328.50,127.92 L329.00,126.67 L329.50,125.44 L330.00,124.23 L330.50,123.04 L331.00,121.89 L331.50,120.76 L332.00,119.67 L332.50,118.62 L333.00,117.61 L333.50,116.63 L334.00,115.70 L334.50,114.81 L335.00,113.98 L335.50,113.18 L336.00,112.44 L336.50,111.74 L337.00,111.10 L337.50,110.50 L338.00,109.96 L338.50,109.46 L339.00,109.01 L339.50,108.61 L340.00,108.25 L340.50,107.94 L341.00,107.67 L341.50,107.44 L342.00,107.25 L342.50,107.10 L343.00,106.99 L343.50,106.91 L344.00,106.86 L344.50,106.84 L345.00,106.86 L345.50,106.90 L346.00,106.96 L346.50,107.05 L347.00,107.17 L347.50,107.30 L348.00,107.46 L348.50,107.64 L349.00,107.84 L349.50,108.06 L350.00,108.29 L350.50,108.55 L351.00,108.83 L351.50,109.12 L352.00,109.44 L352.50,109.77 L353.00,110.12 L353.50,110.50 L354.00,110.89 L354.50,111.31 L355.00,111.74 L355.50,112.19 L356.00,112.67 L356.50,113.16 L357.00,113.67 L357.50,114.20 L358.00,114.74 L358.50,115.30 L359.00,115.87 L359.50,116.45 L360.00,117.05 L360.50,117.65 L361.00,118.25 L361.50,118.86 L362.00,119.47 L362.50,120.07 L363.00,120.68 L363.50,121.27 L364.00,121.86 L364.50,122.43 L365.00,122.99 L365.50,123.53 L366.00,124.05 L366.50,124.55 L367.00,125.02 L367.50,125.48 L368.00,125.90 L368.50,126.30 L369.00,126.67 L369.50,127.01 L370.00,127.32 L370.50,127.60 L371.00,127.86 L371.50,128.08 L372.00,128.27 L372.50,128.43 L373.00,128.56 L373.50,128.66 L374.00,128.74 L374.50,128.78 L375.00,128.80 L375.50,128.80 L376.00,128.76 L376.50,128.70 L377.00,128.62 L377.50,128.51 L378.00,128.38 L378.50,128.23 L379.00,128.05 L379.50,127.85 L380.00,127.62 L380.50,127.38 L381.00,127.11 L381.50,126.82 L382.00,126.52 L382.50,126.19 L383.00,125.84 L383.50,125.47 L384.00,125.08 L384.50,124.68 L385.00,124.26 L385.50,123.82 L386.00,123.37 L386.50,122.91 L387.00,122.44 L387.50,121.96 L388.00,121.47 L388.50,120.98 L389.00,120.49 L389.50,119.99 L390.00,119.50 L390.50,119.02 L391.00,118.55 L391.50,118.08 L392.00,117.64 L392.50,117.21 L393.00,116.80 L393.50,116.42 L394.00,116.07 L394.50,115.75 L395.00,115.46 L395.50,115.21 L396.00,115.00 L396.50,114.83 L397.00,114.71 L397.50,114.63 L398.00,114.61 L398.50,114.63 L399.00,114.70 L399.50,114.83 L400.00,115.02 L400.50,115.25 L401.00,115.55 L401.50,115.89 L402.00,116.30 L402.50,116.75 L403.00,117.27 L403.50,117.83 L404.00,118.45 L404.50,119.11 L405.00,119.83 L405.50,120.59 L406.00,121.40 L406.50,122.24 L407.00,123.13 L407.50,124.06 L408.00,125.01 L408.50,126.01 L409.00,127.02 L409.50,128.07 L410.00,129.14 L410.50,130.22 L411.00,131.33 L411.50,132.44 L412.00,133.57 L412.50,134.70 L413.00,135.84 L413.50,136.98 L414.00,138.12 L414.50,139.25 L415.00,140.38 L415.50,141.49 L416.00,142.60 L416.50,143.69 L417.00,144.77 L417.50,145.83 L418.00,146.87 L418.50,147.88 L419.00,148.88 L419.50,149.85 L420.00,150.79 L420.50,151.71 L421.00,152.60 L421.50,153.47 L422.00,154.30 L422.50,155.11 L423.00,155.89 L423.50,156.63 L424.00,157.35 L424.50,158.04 L425.00,158.70 L425.50,159.32 L426.00,159.92 L426.50,160.49 L427.00,161.04 L427.50,161.55 L428.00,162.04 L428.50,162.50 L429.00,162.94 L429.50,163.35 L430.00,163.74 L430.50,164.11 L431.00,164.45 L431.50,164.77 L432.00,165.07 L432.50,165.36 L433.00,165.62 L433.50,165.86 L434.00,166.09 L434.50,166.30 L435.00,166.50 L435.50,166.68 L436.00,166.85 L436.50,167.01 L437.00,167.15 L437.50,167.28 L438.00,167.40 L438.50,167.52 L439.00,167.62 L439.50,167.71 L440.00,167.80 L440.50,167.88 L441.00,167.95 L441.50,168.02 L442.00,168.07 L442.50,168.13 L443.00,168.18 L443.50,168.22 L444.00,168.26 L444.50,168.30 L445.00,168.33 L445.50,168.36 L446.00,168.39 L446.50,168.41 L447.00,168.43 L447.50,168.45 L448.00,168.47 L448.50,168.48 L449.00,168.50 L449.50,168.51 L450.00,168.52 L450.50,168.53 L451.00,168.54 L451.50,168.55 L452.00,168.55 L452.50,168.56 L453.00,168.56 L453.50,168.57 L454.00,168.57 L454.50,168.58 L455.00,168.58" fill="none" stroke="#ff0000" stroke-width="2.25" stroke-linejoin="round"/>
<rect x="244.5" y="17.5" width="210.00" height="151.90" fill="none" stroke="#484848" stroke-width="1" stroke-opacity="0.45"/>
<line x1="271.38" y1="169.4" x2="271.38" y2="166.9" stroke="#484848" stroke-width="0.8"/>
<line x1="271.38" y1="17.5" x2="271.38" y2="20.0" stroke="#484848" stroke-width="0.8"/>
<line x1="297.46" y1="169.4" x2="297.46" y2="166.9" stroke="#484848" stroke-width="0.8"/>
<line x1="297.46" y1="17.5" x2="297.46" y2="20.0" stroke="#484848" stroke-width="0.8"/>
<line x1="323.54" y1="169.4" x2="323.54" y2="166.9" stroke="#484848" stroke-width="0.8"/>
<line x1="323.54" y1="17.5" x2="323.54" y2="20.0" stroke="#484848" stroke-width="0.8"/>
<line x1="349.62" y1="169.4" x2="349.62" y2="166.9" stroke="#484848" stroke-width="0.8"/>
<line x1="349.62" y1="17.5" x2="349.62" y2="20.0" stroke="#484848" stroke-width="0.8"/>
<line x1="375.70" y1="169.4" x2="375.70" y2="166.9" stroke="#484848" stroke-width="0.8"/>
<line x1="375.70" y1="17.5" x2="375.70" y2="20.0" stroke="#484848" stroke-width="0.8"/>
<line x1="401.78" y1="169.4" x2="401.78" y2="166.9" stroke="#484848" stroke-width="0.8"/>
<line x1="401.78" y1="17.5" x2="401.78" y2="20.0" stroke="#484848" stroke-width="0.8"/>
<line x1="427.86" y1="169.4" x2="427.86" y2="166.9" stroke="#484848" stroke-width="0.8"/>
<line x1="427.86" y1="17.5" x2="427.86" y2="20.0" stroke="#484848" stroke-width="0.8"/>
<line x1="244.5" y1="150.30" x2="247.0" y2="150.30" stroke="#484848" stroke-width="0.8"/>
<line x1="454.5" y1="150.30" x2="452.0" y2="150.30" stroke="#484848" stroke-width="0.8"/>
<line x1="244.5" y1="131.30" x2="247.0" y2="131.30" stroke="#484848" stroke-width="0.8"/>
<line x1="454.5" y1="131.30" x2="452.0" y2="131.30" stroke="#484848" stroke-width="0.8"/>
<line x1="244.5" y1="112.30" x2="247.0" y2="112.30" stroke="#484848" stroke-width="0.8"/>
<line x1="454.5" y1="112.30" x2="452.0" y2="112.30" stroke="#484848" stroke-width="0.8"/>
<line x1="244.5" y1="93.30" x2="247.0" y2="93.30" stroke="#484848" stroke-width="0.8"/>
<line x1="454.5" y1="93.30" x2="452.0" y2="93.30" stroke="#484848" stroke-width="0.8"/>
<line x1="244.5" y1="74.30" x2="247.0" y2="74.30" stroke="#484848" stroke-width="0.8"/>
<line x1="454.5" y1="74.30" x2="452.0" y2="74.30" stroke="#484848" stroke-width="0.8"/>
<line x1="244.5" y1="55.30" x2="247.0" y2="55.30" stroke="#484848" stroke-width="0.8"/>
<line x1="454.5" y1="55.30" x2="452.0" y2="55.30" stroke="#484848" stroke-width="0.8"/>
<line x1="244.5" y1="36.30" x2="247.0" y2="36.30" stroke="#484848" stroke-width="0.8"/>
<line x1="454.5" y1="36.30" x2="452.0" y2="36.30" stroke="#484848" stroke-width="0.8"/>
<text x="242.1" y="171.8" font-size="5" fill="#3c3c48" text-anchor="end">0</text>
<text x="242.1" y="152.8" font-size="5" fill="#3c3c48" text-anchor="end">0.5</text>
<text x="242.1" y="133.8" font-size="5" fill="#3c3c48" text-anchor="end">1</text>
<text x="242.1" y="114.8" font-size="5" fill="#3c3c48" text-anchor="end">1.5</text>
<text x="242.1" y="95.8" font-size="5" fill="#3c3c48" text-anchor="end">2</text>
<text x="242.1" y="76.8" font-size="5" fill="#3c3c48" text-anchor="end">2.5</text>
<text x="242.1" y="57.8" font-size="5" fill="#3c3c48" text-anchor="end">3</text>
<text x="242.1" y="38.8" font-size="5" fill="#3c3c48" text-anchor="end">3.5</text>
<text x="242.1" y="19.8" font-size="5" fill="#3c3c48" text-anchor="end">4</text>
<text x="246.7" y="176.9" font-size="5" fill="#3c3c48" text-anchor="middle">0</text>
<text x="272.8" y="176.9" font-size="5" fill="#3c3c48" text-anchor="middle">0.2</text>
<text x="298.9" y="176.9" font-size="5" fill="#3c3c48" text-anchor="middle">0.4</text>
<text x="324.9" y="176.9" font-size="5" fill="#3c3c48" text-anchor="middle">0.6</text>
<text x="351.0" y="176.9" font-size="5" fill="#3c3c48" text-anchor="middle">0.8</text>
<text x="377.1" y="176.9" font-size="5" fill="#3c3c48" text-anchor="middle">1</text>
<text x="403.2" y="176.9" font-size="5" fill="#3c3c48" text-anchor="middle">1.2</text>
<text x="429.3" y="176.9" font-size="5" fill="#3c3c48" text-anchor="middle">1.4</text>
<text x="455.3" y="176.9" font-size="5" fill="#3c3c48" text-anchor="middle">1.6</text>
<text x="295.6" y="185.0" font-size="5.2" fill="#3c3c48" textLength="109.0" lengthAdjust="spacingAndGlyphs">Temp. change (2011-2021 minus 1980-1990) [°C]</text>
<text x="250.1" y="33.3" font-size="12.8" font-weight="bold" fill="#000">b</text>
<text x="401.0" y="24.6" font-size="5" fill="#2a2a38" textLength="32.0" lengthAdjust="spacingAndGlyphs">Low ECS GCMs</text>
<line x1="435.85" y1="22.00" x2="448.35" y2="22.00" stroke="#0000ff" stroke-width="1.9" stroke-linecap="round"/>
<text x="393.9" y="30.1" font-size="5" fill="#2a2a38" textLength="39.1" lengthAdjust="spacingAndGlyphs">Medium ECS GCMs</text>
<line x1="435.85" y1="27.45" x2="448.35" y2="27.45" stroke="#bd80ff" stroke-width="1.9" stroke-linecap="round"/>
<text x="400.0" y="35.5" font-size="5" fill="#2a2a38" textLength="33.0" lengthAdjust="spacingAndGlyphs">High ECS GCMs</text>
<line x1="435.85" y1="32.90" x2="448.35" y2="32.90" stroke="#ff0000" stroke-width="1.9" stroke-linecap="round"/>
<text x="266.7" y="7.8" font-size="10.7" font-weight="bold" fill="#000" style="white-space:pre" textLength="166.15" lengthAdjust="spacing">Medium precision  ( <tspan font-family="Liberation Serif" font-weight="normal" font-size="11">σ</tspan> = 0.10 °C )</text>
<line x1="496.52" y1="17.5" x2="496.52" y2="169.4" stroke="#f0f0f0" stroke-width="0.8"/>
<line x1="522.84" y1="17.5" x2="522.84" y2="169.4" stroke="#f0f0f0" stroke-width="0.8"/>
<line x1="549.16" y1="17.5" x2="549.16" y2="169.4" stroke="#f0f0f0" stroke-width="0.8"/>
<line x1="575.48" y1="17.5" x2="575.48" y2="169.4" stroke="#f0f0f0" stroke-width="0.8"/>
<line x1="601.80" y1="17.5" x2="601.80" y2="169.4" stroke="#f0f0f0" stroke-width="0.8"/>
<line x1="628.12" y1="17.5" x2="628.12" y2="169.4" stroke="#f0f0f0" stroke-width="0.8"/>
<line x1="654.44" y1="17.5" x2="654.44" y2="169.4" stroke="#f0f0f0" stroke-width="0.8"/>
<line x1="470.5" y1="150.30" x2="681.0" y2="150.30" stroke="#f0f0f0" stroke-width="0.8"/>
<line x1="470.5" y1="131.30" x2="681.0" y2="131.30" stroke="#f0f0f0" stroke-width="0.8"/>
<line x1="470.5" y1="112.30" x2="681.0" y2="112.30" stroke="#f0f0f0" stroke-width="0.8"/>
<line x1="470.5" y1="93.30" x2="681.0" y2="93.30" stroke="#f0f0f0" stroke-width="0.8"/>
<line x1="470.5" y1="74.30" x2="681.0" y2="74.30" stroke="#f0f0f0" stroke-width="0.8"/>
<line x1="470.5" y1="55.30" x2="681.0" y2="55.30" stroke="#f0f0f0" stroke-width="0.8"/>
<line x1="470.5" y1="36.30" x2="681.0" y2="36.30" stroke="#f0f0f0" stroke-width="0.8"/>
<rect x="522.05" y="17.5" width="2.8" height="151.9" fill="#009b65" fill-opacity="0.5"/>
<rect x="537.90" y="17.5" width="2.8" height="151.9" fill="#009b65" fill-opacity="0.5"/>
<rect x="544.00" y="17.5" width="2.6" height="151.9" fill="#009b65" fill-opacity="0.5"/>
<rect x="544.80" y="17.5" width="2.6" height="151.9" fill="#009b65" fill-opacity="0.5"/>
<rect x="545.70" y="17.5" width="2.8" height="151.9" fill="#009b65" fill-opacity="0.5"/>
<rect x="470.5" y="17.5" width="210.50" height="151.90" fill="none" stroke="#484848" stroke-width="1"/>
<path d="M476.00,168.24 L476.50,168.21 L477.00,168.17 L477.50,168.13 L478.00,168.09 L478.50,168.04 L479.00,167.99 L479.50,167.94 L480.00,167.88 L480.50,167.82 L481.00,167.76 L481.50,167.69 L482.00,167.61 L482.50,167.53 L483.00,167.45 L483.50,167.36 L484.00,167.26 L484.50,167.16 L485.00,167.05 L485.50,166.93 L486.00,166.81 L486.50,166.68 L487.00,166.54 L487.50,166.40 L488.00,166.25 L488.50,166.09 L489.00,165.92 L489.50,165.74 L490.00,165.55 L490.50,165.35 L491.00,165.15 L491.50,164.93 L492.00,164.71 L492.50,164.47 L493.00,164.22 L493.50,163.96 L494.00,163.70 L494.50,163.42 L495.00,163.13 L495.50,162.82 L496.00,162.51 L496.50,162.18 L497.00,161.84 L497.50,161.49 L498.00,161.13 L498.50,160.75 L499.00,160.36 L499.50,159.96 L500.00,159.55 L500.50,159.12 L501.00,158.68 L501.50,158.22 L502.00,157.76 L502.50,157.27 L503.00,156.78 L503.50,156.27 L504.00,155.74 L504.50,155.20 L505.00,154.65 L505.50,154.08 L506.00,153.50 L506.50,152.90 L507.00,152.29 L507.50,151.66 L508.00,151.02 L508.50,150.36 L509.00,149.69 L509.50,149.00 L510.00,148.30 L510.50,147.58 L511.00,146.84 L511.50,146.09 L512.00,145.32 L512.50,144.54 L513.00,143.74 L513.50,142.93 L514.00,142.09 L514.50,141.25 L515.00,140.39 L515.50,139.51 L516.00,138.62 L516.50,137.71 L517.00,136.79 L517.50,135.85 L518.00,134.90 L518.50,133.94 L519.00,132.96 L519.50,131.97 L520.00,130.97 L520.50,129.96 L521.00,128.93 L521.50,127.90 L522.00,126.86 L522.50,125.81 L523.00,124.76 L523.50,123.70 L524.00,122.63 L524.50,121.56 L525.00,120.49 L525.50,119.42 L526.00,118.34 L526.50,117.27 L527.00,116.20 L527.50,115.14 L528.00,114.08 L528.50,113.03 L529.00,111.98 L529.50,110.95 L530.00,109.93 L530.50,108.92 L531.00,107.92 L531.50,106.94 L532.00,105.97 L532.50,105.03 L533.00,104.10 L533.50,103.19 L534.00,102.31 L534.50,101.44 L535.00,100.60 L535.50,99.79 L536.00,99.00 L536.50,98.23 L537.00,97.50 L537.50,96.79 L538.00,96.11 L538.50,95.46 L539.00,94.84 L539.50,94.26 L540.00,93.70 L540.50,93.17 L541.00,92.68 L541.50,92.22 L542.00,91.79 L542.50,91.39 L543.00,91.03 L543.50,90.70 L544.00,90.40 L544.50,90.14 L545.00,89.91 L545.50,89.71 L546.00,89.55 L546.50,89.42 L547.00,89.33 L547.50,89.26 L548.00,89.24 L548.50,89.24 L549.00,89.28 L549.50,89.35 L550.00,89.46 L550.50,89.60 L551.00,89.77 L551.50,89.98 L552.00,90.21 L552.50,90.48 L553.00,90.79 L553.50,91.12 L554.00,91.49 L554.50,91.89 L555.00,92.32 L555.50,92.77 L556.00,93.26 L556.50,93.78 L557.00,94.33 L557.50,94.91 L558.00,95.51 L558.50,96.14 L559.00,96.80 L559.50,97.49 L560.00,98.19 L560.50,98.93 L561.00,99.68 L561.50,100.46 L562.00,101.25 L562.50,102.07 L563.00,102.91 L563.50,103.76 L564.00,104.63 L564.50,105.51 L565.00,106.41 L565.50,107.32 L566.00,108.25 L566.50,109.18 L567.00,110.12 L567.50,111.07 L568.00,112.03 L568.50,112.99 L569.00,113.96 L569.50,114.93 L570.00,115.91 L570.50,116.88 L571.00,117.86 L571.50,118.84 L572.00,119.81 L572.50,120.79 L573.00,121.76 L573.50,122.73 L574.00,123.69 L574.50,124.65 L575.00,125.61 L575.50,126.56 L576.00,127.50 L576.50,128.44 L577.00,129.37 L577.50,130.30 L578.00,131.22 L578.50,132.13 L579.00,133.03 L579.50,133.92 L580.00,134.81 L580.50,135.69 L581.00,136.56 L581.50,137.42 L582.00,138.27 L582.50,139.12 L583.00,139.95 L583.50,140.78 L584.00,141.60 L584.50,142.41 L585.00,143.21 L585.50,143.99 L586.00,144.77 L586.50,145.54 L587.00,146.30 L587.50,147.05 L588.00,147.78 L588.50,148.51 L589.00,149.23 L589.50,149.93 L590.00,150.62 L590.50,151.30 L591.00,151.96 L591.50,152.62 L592.00,153.26 L592.50,153.89 L593.00,154.50 L593.50,155.10 L594.00,155.69 L594.50,156.26 L595.00,156.82 L595.50,157.36 L596.00,157.89 L596.50,158.40 L597.00,158.90 L597.50,159.38 L598.00,159.85 L598.50,160.30 L599.00,160.74 L599.50,161.16 L600.00,161.57 L600.50,161.96 L601.00,162.34 L601.50,162.70 L602.00,163.05 L602.50,163.38 L603.00,163.69 L603.50,164.00 L604.00,164.29 L604.50,164.56 L605.00,164.83 L605.50,165.08 L606.00,165.31 L606.50,165.54 L607.00,165.75 L607.50,165.95 L608.00,166.14 L608.50,166.32 L609.00,166.49 L609.50,166.64 L610.00,166.79 L610.50,166.93 L611.00,167.06 L611.50,167.18 L612.00,167.30 L612.50,167.40 L613.00,167.50 L613.50,167.59 L614.00,167.68 L614.50,167.76 L615.00,167.83 L615.50,167.90 L616.00,167.96 L616.50,168.02 L617.00,168.07 L617.50,168.12 L618.00,168.17 L618.50,168.21 L619.00,168.25 L619.50,168.28 L620.00,168.31 L620.50,168.34 L621.00,168.37 L621.50,168.39 L622.00,168.41 L622.50,168.43 L623.00,168.45 L623.50,168.47 L624.00,168.48 L624.50,168.49 L625.00,168.50 L625.50,168.51 L626.00,168.52 L626.50,168.53 L627.00,168.54 L627.50,168.55 L628.00,168.55 L628.50,168.56 L629.00,168.56 L629.50,168.57 L630.00,168.57 L630.50,168.58 L631.00,168.58 L631.50,168.58 L632.00,168.58 L632.50,168.59 L633.00,168.59 L633.50,168.59 L634.00,168.59 L634.50,168.59 L635.00,168.59 L635.50,168.59 L636.00,168.59 L636.50,168.60 L637.00,168.60 L637.50,168.60 L638.00,168.60 L638.50,168.60 L639.00,168.60 L639.50,168.60 L640.00,168.60 L640.50,168.60 L641.00,168.60 L641.50,168.60 L642.00,168.60" fill="none" stroke="#0000ff" stroke-width="2.25" stroke-linejoin="round"/>
<path d="M498.50,168.24 L499.00,168.21 L499.50,168.17 L500.00,168.13 L500.50,168.09 L501.00,168.05 L501.50,168.00 L502.00,167.95 L502.50,167.90 L503.00,167.84 L503.50,167.78 L504.00,167.72 L504.50,167.65 L505.00,167.58 L505.50,167.50 L506.00,167.42 L506.50,167.34 L507.00,167.25 L507.50,167.15 L508.00,167.05 L508.50,166.95 L509.00,166.84 L509.50,166.72 L510.00,166.60 L510.50,166.48 L511.00,166.35 L511.50,166.21 L512.00,166.07 L512.50,165.92 L513.00,165.76 L513.50,165.60 L514.00,165.44 L514.50,165.26 L515.00,165.08 L515.50,164.89 L516.00,164.70 L516.50,164.50 L517.00,164.29 L517.50,164.08 L518.00,163.85 L518.50,163.62 L519.00,163.38 L519.50,163.14 L520.00,162.88 L520.50,162.62 L521.00,162.35 L521.50,162.07 L522.00,161.77 L522.50,161.47 L523.00,161.16 L523.50,160.84 L524.00,160.51 L524.50,160.16 L525.00,159.80 L525.50,159.43 L526.00,159.05 L526.50,158.65 L527.00,158.24 L527.50,157.81 L528.00,157.37 L528.50,156.91 L529.00,156.43 L529.50,155.93 L530.00,155.42 L530.50,154.88 L531.00,154.33 L531.50,153.75 L532.00,153.16 L532.50,152.54 L533.00,151.89 L533.50,151.23 L534.00,150.53 L534.50,149.82 L535.00,149.08 L535.50,148.31 L536.00,147.51 L536.50,146.69 L537.00,145.84 L537.50,144.97 L538.00,144.07 L538.50,143.14 L539.00,142.18 L539.50,141.20 L540.00,140.19 L540.50,139.16 L541.00,138.10 L541.50,137.01 L542.00,135.91 L542.50,134.78 L543.00,133.63 L543.50,132.46 L544.00,131.27 L544.50,130.07 L545.00,128.84 L545.50,127.61 L546.00,126.36 L546.50,125.11 L547.00,123.84 L547.50,122.57 L548.00,121.29 L548.50,120.01 L549.00,118.74 L549.50,117.46 L550.00,116.19 L550.50,114.93 L551.00,113.67 L551.50,112.43 L552.00,111.19 L552.50,109.98 L553.00,108.78 L553.50,107.60 L554.00,106.44 L554.50,105.31 L555.00,104.20 L555.50,103.11 L556.00,102.06 L556.50,101.03 L557.00,100.03 L557.50,99.07 L558.00,98.13 L558.50,97.24 L559.00,96.37 L559.50,95.54 L560.00,94.75 L560.50,93.99 L561.00,93.27 L561.50,92.58 L562.00,91.94 L562.50,91.32 L563.00,90.75 L563.50,90.21 L564.00,89.71 L564.50,89.24 L565.00,88.81 L565.50,88.42 L566.00,88.06 L566.50,87.73 L567.00,87.44 L567.50,87.19 L568.00,86.96 L568.50,86.77 L569.00,86.61 L569.50,86.49 L570.00,86.39 L570.50,86.33 L571.00,86.30 L571.50,86.30 L572.00,86.33 L572.50,86.39 L573.00,86.48 L573.50,86.60 L574.00,86.75 L574.50,86.93 L575.00,87.13 L575.50,87.37 L576.00,87.64 L576.50,87.93 L577.00,88.26 L577.50,88.61 L578.00,88.99 L578.50,89.40 L579.00,89.84 L579.50,90.30 L580.00,90.79 L580.50,91.31 L581.00,91.86 L581.50,92.43 L582.00,93.03 L582.50,93.66 L583.00,94.31 L583.50,94.99 L584.00,95.68 L584.50,96.41 L585.00,97.15 L585.50,97.91 L586.00,98.70 L586.50,99.51 L587.00,100.33 L587.50,101.17 L588.00,102.03 L588.50,102.91 L589.00,103.80 L589.50,104.70 L590.00,105.62 L590.50,106.54 L591.00,107.48 L591.50,108.43 L592.00,109.39 L592.50,110.35 L593.00,111.32 L593.50,112.30 L594.00,113.28 L594.50,114.27 L595.00,115.25 L595.50,116.25 L596.00,117.24 L596.50,118.23 L597.00,119.22 L597.50,120.22 L598.00,121.21 L598.50,122.20 L599.00,123.19 L599.50,124.17 L600.00,125.16 L600.50,126.13 L601.00,127.11 L601.50,128.08 L602.00,129.05 L602.50,130.01 L603.00,130.96 L603.50,131.91 L604.00,132.86 L604.50,133.80 L605.00,134.73 L605.50,135.65 L606.00,136.57 L606.50,137.48 L607.00,138.38 L607.50,139.28 L608.00,140.16 L608.50,141.04 L609.00,141.91 L609.50,142.76 L610.00,143.61 L610.50,144.45 L611.00,145.27 L611.50,146.09 L612.00,146.89 L612.50,147.68 L613.00,148.46 L613.50,149.22 L614.00,149.98 L614.50,150.71 L615.00,151.44 L615.50,152.15 L616.00,152.84 L616.50,153.52 L617.00,154.18 L617.50,154.83 L618.00,155.45 L618.50,156.07 L619.00,156.66 L619.50,157.24 L620.00,157.81 L620.50,158.35 L621.00,158.88 L621.50,159.39 L622.00,159.88 L622.50,160.35 L623.00,160.81 L623.50,161.25 L624.00,161.67 L624.50,162.08 L625.00,162.47 L625.50,162.84 L626.00,163.19 L626.50,163.53 L627.00,163.86 L627.50,164.16 L628.00,164.46 L628.50,164.73 L629.00,165.00 L629.50,165.25 L630.00,165.48 L630.50,165.70 L631.00,165.91 L631.50,166.11 L632.00,166.30 L632.50,166.47 L633.00,166.64 L633.50,166.79 L634.00,166.93 L634.50,167.07 L635.00,167.19 L635.50,167.31 L636.00,167.41 L636.50,167.52 L637.00,167.61 L637.50,167.69 L638.00,167.77 L638.50,167.85 L639.00,167.92 L639.50,167.98 L640.00,168.04 L640.50,168.09 L641.00,168.14 L641.50,168.18 L642.00,168.22 L642.50,168.26 L643.00,168.29 L643.50,168.32 L644.00,168.35 L644.50,168.38 L645.00,168.40 L645.50,168.42 L646.00,168.44 L646.50,168.46 L647.00,168.47 L647.50,168.49 L648.00,168.50 L648.50,168.51 L649.00,168.52 L649.50,168.53 L650.00,168.54 L650.50,168.55 L651.00,168.55 L651.50,168.56 L652.00,168.56 L652.50,168.57 L653.00,168.57 L653.50,168.57 L654.00,168.58 L654.50,168.58 L655.00,168.58 L655.50,168.59 L656.00,168.59 L656.50,168.59 L657.00,168.59 L657.50,168.59 L658.00,168.59 L658.50,168.59 L659.00,168.59 L659.50,168.60 L660.00,168.60 L660.50,168.60 L661.00,168.60 L661.50,168.60 L662.00,168.60 L662.50,168.60 L663.00,168.60 L663.50,168.60 L664.00,168.60 L664.50,168.60 L665.00,168.60 L665.50,168.60 L666.00,168.60 L666.50,168.60 L667.00,168.60 L667.50,168.60 L668.00,168.60 L668.50,168.60 L669.00,168.60 L669.50,168.60 L670.00,168.60 L670.50,168.60 L671.00,168.60 L671.50,168.60 L672.00,168.60 L672.50,168.60 L673.00,168.60 L673.50,168.60 L674.00,168.60 L674.50,168.60 L675.00,168.60 L675.50,168.60 L676.00,168.60 L676.50,168.60 L677.00,168.60 L677.50,168.60 L678.00,168.60 L678.50,168.60 L679.00,168.60 L679.50,168.60 L680.00,168.60 L680.50,168.60 L681.00,168.60 L681.50,168.60" fill="none" stroke="#bd80ff" stroke-width="2.25" stroke-linejoin="round"/>
<path d="M470.50,168.59 L471.00,168.59 L471.50,168.59 L472.00,168.59 L472.50,168.59 L473.00,168.59 L473.50,168.59 L474.00,168.59 L474.50,168.59 L475.00,168.59 L475.50,168.59 L476.00,168.59 L476.50,168.59 L477.00,168.59 L477.50,168.59 L478.00,168.59 L478.50,168.58 L479.00,168.58 L479.50,168.58 L480.00,168.58 L480.50,168.58 L481.00,168.58 L481.50,168.58 L482.00,168.57 L482.50,168.57 L483.00,168.57 L483.50,168.57 L484.00,168.57 L484.50,168.56 L485.00,168.56 L485.50,168.56 L486.00,168.56 L486.50,168.55 L487.00,168.55 L487.50,168.55 L488.00,168.54 L488.50,168.54 L489.00,168.54 L489.50,168.53 L490.00,168.53 L490.50,168.52 L491.00,168.52 L491.50,168.51 L492.00,168.51 L492.50,168.50 L493.00,168.50 L493.50,168.49 L494.00,168.48 L494.50,168.48 L495.00,168.47 L495.50,168.46 L496.00,168.45 L496.50,168.44 L497.00,168.43 L497.50,168.42 L498.00,168.41 L498.50,168.40 L499.00,168.39 L499.50,168.38 L500.00,168.37 L500.50,168.35 L501.00,168.34 L501.50,168.32 L502.00,168.31 L502.50,168.29 L503.00,168.27 L503.50,168.25 L504.00,168.23 L504.50,168.21 L505.00,168.19 L505.50,168.17 L506.00,168.14 L506.50,168.12 L507.00,168.09 L507.50,168.06 L508.00,168.03 L508.50,168.00 L509.00,167.96 L509.50,167.93 L510.00,167.89 L510.50,167.85 L511.00,167.81 L511.50,167.76 L512.00,167.72 L512.50,167.67 L513.00,167.61 L513.50,167.56 L514.00,167.50 L514.50,167.44 L515.00,167.37 L515.50,167.30 L516.00,167.23 L516.50,167.15 L517.00,167.07 L517.50,166.99 L518.00,166.90 L518.50,166.80 L519.00,166.70 L519.50,166.59 L520.00,166.48 L520.50,166.36 L521.00,166.23 L521.50,166.10 L522.00,165.96 L522.50,165.81 L523.00,165.65 L523.50,165.49 L524.00,165.31 L524.50,165.13 L525.00,164.93 L525.50,164.73 L526.00,164.51 L526.50,164.28 L527.00,164.04 L527.50,163.79 L528.00,163.53 L528.50,163.25 L529.00,162.96 L529.50,162.66 L530.00,162.34 L530.50,162.01 L531.00,161.66 L531.50,161.29 L532.00,160.91 L532.50,160.51 L533.00,160.10 L533.50,159.67 L534.00,159.22 L534.50,158.75 L535.00,158.27 L535.50,157.77 L536.00,157.25 L536.50,156.71 L537.00,156.15 L537.50,155.58 L538.00,154.99 L538.50,154.38 L539.00,153.75 L539.50,153.11 L540.00,152.45 L540.50,151.77 L541.00,151.07 L541.50,150.37 L542.00,149.64 L542.50,148.90 L543.00,148.15 L543.50,147.39 L544.00,146.61 L544.50,145.82 L545.00,145.03 L545.50,144.22 L546.00,143.41 L546.50,142.58 L547.00,141.76 L547.50,140.93 L548.00,140.09 L548.50,139.26 L549.00,138.42 L549.50,137.59 L550.00,136.75 L550.50,135.92 L551.00,135.10 L551.50,134.28 L552.00,133.47 L552.50,132.66 L553.00,131.87 L553.50,131.09 L554.00,130.32 L554.50,129.56 L555.00,128.82 L555.50,128.10 L556.00,127.39 L556.50,126.70 L557.00,126.02 L557.50,125.37 L558.00,124.74 L558.50,124.12 L559.00,123.53 L559.50,122.96 L560.00,122.42 L560.50,121.89 L561.00,121.39 L561.50,120.91 L562.00,120.46 L562.50,120.03 L563.00,119.62 L563.50,119.24 L564.00,118.88 L564.50,118.54 L565.00,118.22 L565.50,117.93 L566.00,117.66 L566.50,117.41 L567.00,117.18 L567.50,116.97 L568.00,116.79 L568.50,116.62 L569.00,116.47 L569.50,116.34 L570.00,116.22 L570.50,116.13 L571.00,116.04 L571.50,115.98 L572.00,115.93 L572.50,115.89 L573.00,115.87 L573.50,115.86 L574.00,115.86 L574.50,115.87 L575.00,115.89 L575.50,115.92 L576.00,115.97 L576.50,116.02 L577.00,116.08 L577.50,116.14 L578.00,116.22 L578.50,116.30 L579.00,116.39 L579.50,116.48 L580.00,116.58 L580.50,116.68 L581.00,116.79 L581.50,116.90 L582.00,117.02 L582.50,117.14 L583.00,117.26 L583.50,117.38 L584.00,117.51 L584.50,117.64 L585.00,117.77 L585.50,117.91 L586.00,118.04 L586.50,118.18 L587.00,118.32 L587.50,118.46 L588.00,118.60 L588.50,118.74 L589.00,118.88 L589.50,119.02 L590.00,119.16 L590.50,119.30 L591.00,119.45 L591.50,119.59 L592.00,119.72 L592.50,119.86 L593.00,120.00 L593.50,120.13 L594.00,120.27 L594.50,120.40 L595.00,120.53 L595.50,120.66 L596.00,120.78 L596.50,120.90 L597.00,121.02 L597.50,121.14 L598.00,121.26 L598.50,121.37 L599.00,121.47 L599.50,121.58 L600.00,121.68 L600.50,121.77 L601.00,121.87 L601.50,121.95 L602.00,122.04 L602.50,122.12 L603.00,122.20 L603.50,122.27 L604.00,122.33 L604.50,122.40 L605.00,122.46 L605.50,122.51 L606.00,122.56 L606.50,122.61 L607.00,122.65 L607.50,122.69 L608.00,122.73 L608.50,122.76 L609.00,122.79 L609.50,122.82 L610.00,122.84 L610.50,122.87 L611.00,122.89 L611.50,122.91 L612.00,122.93 L612.50,122.94 L613.00,122.96 L613.50,122.98 L614.00,123.00 L614.50,123.02 L615.00,123.05 L615.50,123.07 L616.00,123.10 L616.50,123.14 L617.00,123.18 L617.50,123.22 L618.00,123.27 L618.50,123.33 L619.00,123.39 L619.50,123.46 L620.00,123.55 L620.50,123.64 L621.00,123.74 L621.50,123.85 L622.00,123.97 L622.50,124.11 L623.00,124.26 L623.50,124.42 L624.00,124.59 L624.50,124.78 L625.00,124.99 L625.50,125.21 L626.00,125.45 L626.50,125.70 L627.00,125.97 L627.50,126.25 L628.00,126.56 L628.50,126.88 L629.00,127.21 L629.50,127.57 L630.00,127.94 L630.50,128.33 L631.00,128.74 L631.50,129.16 L632.00,129.61 L632.50,130.06 L633.00,130.54 L633.50,131.03 L634.00,131.54 L634.50,132.06 L635.00,132.60 L635.50,133.15 L636.00,133.71 L636.50,134.29 L637.00,134.88 L637.50,135.48 L638.00,136.10 L638.50,136.72 L639.00,137.35 L639.50,137.99 L640.00,138.64 L640.50,139.29 L641.00,139.95 L641.50,140.62 L642.00,141.29 L642.50,141.96 L643.00,142.63 L643.50,143.31 L644.00,143.98 L644.50,144.66 L645.00,145.33 L645.50,146.00 L646.00,146.67 L646.50,147.33 L647.00,147.99 L647.50,148.64 L648.00,149.28 L648.50,149.92 L649.00,150.55 L649.50,151.17 L650.00,151.79 L650.50,152.39 L651.00,152.98 L651.50,153.56 L652.00,154.13 L652.50,154.69 L653.00,155.24 L653.50,155.77 L654.00,156.30 L654.50,156.80 L655.00,157.30 L655.50,157.78 L656.00,158.25 L656.50,158.71 L657.00,159.15 L657.50,159.58 L658.00,159.99 L658.50,160.39 L659.00,160.78 L659.50,161.16 L660.00,161.52 L660.50,161.86 L661.00,162.20 L661.50,162.52 L662.00,162.83 L662.50,163.12 L663.00,163.41 L663.50,163.68 L664.00,163.94 L664.50,164.19 L665.00,164.43 L665.50,164.66 L666.00,164.87 L666.50,165.08 L667.00,165.28 L667.50,165.46 L668.00,165.64 L668.50,165.81 L669.00,165.97 L669.50,166.13 L670.00,166.27 L670.50,166.41 L671.00,166.54 L671.50,166.66 L672.00,166.78 L672.50,166.89 L673.00,166.99 L673.50,167.09 L674.00,167.18 L674.50,167.27 L675.00,167.35 L675.50,167.43 L676.00,167.50 L676.50,167.57 L677.00,167.63 L677.50,167.69 L678.00,167.75 L678.50,167.80 L679.00,167.85 L679.50,167.90 L680.00,167.94 L680.50,167.99 L681.00,168.03 L681.50,168.06" fill="none" stroke="#ff0000" stroke-width="2.25" stroke-linejoin="round"/>
<rect x="470.5" y="17.5" width="210.50" height="151.90" fill="none" stroke="#484848" stroke-width="1" stroke-opacity="0.45"/>
<line x1="496.52" y1="169.4" x2="496.52" y2="166.9" stroke="#484848" stroke-width="0.8"/>
<line x1="496.52" y1="17.5" x2="496.52" y2="20.0" stroke="#484848" stroke-width="0.8"/>
<line x1="522.84" y1="169.4" x2="522.84" y2="166.9" stroke="#484848" stroke-width="0.8"/>
<line x1="522.84" y1="17.5" x2="522.84" y2="20.0" stroke="#484848" stroke-width="0.8"/>
<line x1="549.16" y1="169.4" x2="549.16" y2="166.9" stroke="#484848" stroke-width="0.8"/>
<line x1="549.16" y1="17.5" x2="549.16" y2="20.0" stroke="#484848" stroke-width="0.8"/>
<line x1="575.48" y1="169.4" x2="575.48" y2="166.9" stroke="#484848" stroke-width="0.8"/>
<line x1="575.48" y1="17.5" x2="575.48" y2="20.0" stroke="#484848" stroke-width="0.8"/>
<line x1="601.80" y1="169.4" x2="601.80" y2="166.9" stroke="#484848" stroke-width="0.8"/>
<line x1="601.80" y1="17.5" x2="601.80" y2="20.0" stroke="#484848" stroke-width="0.8"/>
<line x1="628.12" y1="169.4" x2="628.12" y2="166.9" stroke="#484848" stroke-width="0.8"/>
<line x1="628.12" y1="17.5" x2="628.12" y2="20.0" stroke="#484848" stroke-width="0.8"/>
<line x1="654.44" y1="169.4" x2="654.44" y2="166.9" stroke="#484848" stroke-width="0.8"/>
<line x1="654.44" y1="17.5" x2="654.44" y2="20.0" stroke="#484848" stroke-width="0.8"/>
<line x1="470.5" y1="150.30" x2="473.0" y2="150.30" stroke="#484848" stroke-width="0.8"/>
<line x1="681.0" y1="150.30" x2="678.5" y2="150.30" stroke="#484848" stroke-width="0.8"/>
<line x1="470.5" y1="131.30" x2="473.0" y2="131.30" stroke="#484848" stroke-width="0.8"/>
<line x1="681.0" y1="131.30" x2="678.5" y2="131.30" stroke="#484848" stroke-width="0.8"/>
<line x1="470.5" y1="112.30" x2="473.0" y2="112.30" stroke="#484848" stroke-width="0.8"/>
<line x1="681.0" y1="112.30" x2="678.5" y2="112.30" stroke="#484848" stroke-width="0.8"/>
<line x1="470.5" y1="93.30" x2="473.0" y2="93.30" stroke="#484848" stroke-width="0.8"/>
<line x1="681.0" y1="93.30" x2="678.5" y2="93.30" stroke="#484848" stroke-width="0.8"/>
<line x1="470.5" y1="74.30" x2="473.0" y2="74.30" stroke="#484848" stroke-width="0.8"/>
<line x1="681.0" y1="74.30" x2="678.5" y2="74.30" stroke="#484848" stroke-width="0.8"/>
<line x1="470.5" y1="55.30" x2="473.0" y2="55.30" stroke="#484848" stroke-width="0.8"/>
<line x1="681.0" y1="55.30" x2="678.5" y2="55.30" stroke="#484848" stroke-width="0.8"/>
<line x1="470.5" y1="36.30" x2="473.0" y2="36.30" stroke="#484848" stroke-width="0.8"/>
<line x1="681.0" y1="36.30" x2="678.5" y2="36.30" stroke="#484848" stroke-width="0.8"/>
<text x="468.1" y="171.8" font-size="5" fill="#3c3c48" text-anchor="end">0</text>
<text x="468.1" y="152.8" font-size="5" fill="#3c3c48" text-anchor="end">0.5</text>
<text x="468.1" y="133.8" font-size="5" fill="#3c3c48" text-anchor="end">1</text>
<text x="468.1" y="114.8" font-size="5" fill="#3c3c48" text-anchor="end">1.5</text>
<text x="468.1" y="95.8" font-size="5" fill="#3c3c48" text-anchor="end">2</text>
<text x="468.1" y="76.8" font-size="5" fill="#3c3c48" text-anchor="end">2.5</text>
<text x="468.1" y="57.8" font-size="5" fill="#3c3c48" text-anchor="end">3</text>
<text x="468.1" y="38.8" font-size="5" fill="#3c3c48" text-anchor="end">3.5</text>
<text x="468.1" y="19.8" font-size="5" fill="#3c3c48" text-anchor="end">4</text>
<text x="471.2" y="176.9" font-size="5" fill="#3c3c48" text-anchor="middle">0</text>
<text x="497.5" y="176.9" font-size="5" fill="#3c3c48" text-anchor="middle">0.2</text>
<text x="523.8" y="176.9" font-size="5" fill="#3c3c48" text-anchor="middle">0.4</text>
<text x="550.2" y="176.9" font-size="5" fill="#3c3c48" text-anchor="middle">0.6</text>
<text x="576.5" y="176.9" font-size="5" fill="#3c3c48" text-anchor="middle">0.8</text>
<text x="602.8" y="176.9" font-size="5" fill="#3c3c48" text-anchor="middle">1</text>
<text x="629.1" y="176.9" font-size="5" fill="#3c3c48" text-anchor="middle">1.2</text>
<text x="655.4" y="176.9" font-size="5" fill="#3c3c48" text-anchor="middle">1.4</text>
<text x="681.8" y="176.9" font-size="5" fill="#3c3c48" text-anchor="middle">1.6</text>
<text x="527.6" y="185.0" font-size="5.2" fill="#3c3c48" textLength="107.4" lengthAdjust="spacingAndGlyphs">Temp. change (2011-2021 minus 1980-1990) [°C]</text>
<text x="476.1" y="33.3" font-size="12.8" font-weight="bold" fill="#000">c</text>
<text x="627.1" y="24.6" font-size="5" fill="#2a2a38" textLength="32.0" lengthAdjust="spacingAndGlyphs">Low ECS GCMs</text>
<line x1="661.95" y1="22.00" x2="674.45" y2="22.00" stroke="#0000ff" stroke-width="1.9" stroke-linecap="round"/>
<text x="620.0" y="30.1" font-size="5" fill="#2a2a38" textLength="39.1" lengthAdjust="spacingAndGlyphs">Medium ECS GCMs</text>
<line x1="661.95" y1="27.45" x2="674.45" y2="27.45" stroke="#bd80ff" stroke-width="1.9" stroke-linecap="round"/>
<text x="626.1" y="35.5" font-size="5" fill="#2a2a38" textLength="33.0" lengthAdjust="spacingAndGlyphs">High ECS GCMs</text>
<line x1="661.95" y1="32.90" x2="674.45" y2="32.90" stroke="#ff0000" stroke-width="1.9" stroke-linecap="round"/>
<text x="503.9" y="7.8" font-size="10.7" font-weight="bold" fill="#000" style="white-space:pre" textLength="143.45" lengthAdjust="spacing">Low precision  ( <tspan font-family="Liberation Serif" font-weight="normal" font-size="11">σ</tspan> = 0.15 °C )</text>
<text transform="translate(4.6,94.6) rotate(-90)" font-size="5.1" fill="#3c3c48" text-anchor="middle">probability density</text>
<line x1="42.74" y1="192.5" x2="42.74" y2="332.3" stroke="#f0f0f0" stroke-width="0.8"/>
<line x1="69.18" y1="192.5" x2="69.18" y2="332.3" stroke="#f0f0f0" stroke-width="0.8"/>
<line x1="95.62" y1="192.5" x2="95.62" y2="332.3" stroke="#f0f0f0" stroke-width="0.8"/>
<line x1="122.06" y1="192.5" x2="122.06" y2="332.3" stroke="#f0f0f0" stroke-width="0.8"/>
<line x1="148.50" y1="192.5" x2="148.50" y2="332.3" stroke="#f0f0f0" stroke-width="0.8"/>
<line x1="174.94" y1="192.5" x2="174.94" y2="332.3" stroke="#f0f0f0" stroke-width="0.8"/>
<line x1="201.38" y1="192.5" x2="201.38" y2="332.3" stroke="#f0f0f0" stroke-width="0.8"/>
<line x1="16.8" y1="239.10" x2="227.4" y2="239.10" stroke="#f0f0f0" stroke-width="0.8"/>
<line x1="16.8" y1="285.70" x2="227.4" y2="285.70" stroke="#f0f0f0" stroke-width="0.8"/>
<line x1="65.1" y1="215.80" x2="79.4" y2="215.80" stroke="#555555" stroke-width="0.8"/>
<line x1="110.7" y1="215.80" x2="122.9" y2="215.80" stroke="#555555" stroke-width="0.8"/>
<line x1="79.4" y1="215.80" x2="85.7" y2="215.80" stroke="#303030" stroke-width="0.9"/>
<line x1="104.8" y1="215.80" x2="110.7" y2="215.80" stroke="#303030" stroke-width="0.9"/>
<line x1="65.1" y1="213.40" x2="65.1" y2="218.20" stroke="#808080" stroke-width="0.8"/>
<line x1="79.4" y1="213.40" x2="79.4" y2="218.20" stroke="#808080" stroke-width="0.8"/>
<line x1="110.7" y1="213.40" x2="110.7" y2="218.20" stroke="#808080" stroke-width="0.8"/>
<line x1="122.9" y1="213.40" x2="122.9" y2="218.20" stroke="#808080" stroke-width="0.8"/>
<line x1="94.2" y1="262.40" x2="105.0" y2="262.40" stroke="#555555" stroke-width="0.8"/>
<line x1="135.3" y1="262.40" x2="147.3" y2="262.40" stroke="#555555" stroke-width="0.8"/>
<line x1="105.0" y1="262.40" x2="109.2" y2="262.40" stroke="#303030" stroke-width="0.9"/>
<line x1="130.8" y1="262.40" x2="135.3" y2="262.40" stroke="#303030" stroke-width="0.9"/>
<line x1="94.2" y1="260.00" x2="94.2" y2="264.80" stroke="#808080" stroke-width="0.8"/>
<line x1="105.0" y1="260.00" x2="105.0" y2="264.80" stroke="#808080" stroke-width="0.8"/>
<line x1="135.3" y1="260.00" x2="135.3" y2="264.80" stroke="#808080" stroke-width="0.8"/>
<line x1="147.3" y1="260.00" x2="147.3" y2="264.80" stroke="#808080" stroke-width="0.8"/>
<line x1="95.4" y1="309.00" x2="108.6" y2="309.00" stroke="#555555" stroke-width="0.8"/>
<line x1="175.4" y1="309.00" x2="187.8" y2="309.00" stroke="#555555" stroke-width="0.8"/>
<line x1="108.6" y1="309.00" x2="116.3" y2="309.00" stroke="#303030" stroke-width="0.9"/>
<line x1="168.0" y1="309.00" x2="175.4" y2="309.00" stroke="#303030" stroke-width="0.9"/>
<line x1="95.4" y1="306.60" x2="95.4" y2="311.40" stroke="#808080" stroke-width="0.8"/>
<line x1="108.6" y1="306.60" x2="108.6" y2="311.40" stroke="#808080" stroke-width="0.8"/>
<line x1="175.4" y1="306.60" x2="175.4" y2="311.40" stroke="#808080" stroke-width="0.8"/>
<line x1="187.8" y1="306.60" x2="187.8" y2="311.40" stroke="#808080" stroke-width="0.8"/>
<rect x="68.10" y="192.5" width="3.10" height="139.8" fill="#2fae7c"/>
<rect x="68.70" y="192.5" width="2.00" height="139.8" fill="#25c95a"/>
<rect x="84.40" y="192.5" width="3.20" height="139.8" fill="#2fae7c"/>
<rect x="84.40" y="192.5" width="2.30" height="139.8" fill="#1fd055"/>
<rect x="90.10" y="192.5" width="4.20" height="139.8" fill="#2cb476"/>
<rect x="91.00" y="192.5" width="3.30" height="139.8" fill="#05cc42"/>
<rect x="85.7" y="204.10" width="19.10" height="23.4" fill="#0000ff" stroke="#333" stroke-width="0.7"/>
<line x1="94.7" y1="204.10" x2="94.7" y2="227.50" stroke="#222" stroke-width="0.8"/>
<rect x="109.2" y="250.70" width="21.60" height="23.4" fill="#ee82ee" stroke="#333" stroke-width="0.7"/>
<line x1="120.5" y1="250.70" x2="120.5" y2="274.10" stroke="#222" stroke-width="0.8"/>
<rect x="116.3" y="297.30" width="51.70" height="23.4" fill="#ff0000" stroke="#333" stroke-width="0.7"/>
<line x1="136.4" y1="297.30" x2="136.4" y2="320.70" stroke="#222" stroke-width="0.8"/>
<rect x="16.8" y="192.5" width="210.60" height="139.80" fill="none" stroke="#484848" stroke-width="1"/>
<line x1="42.74" y1="332.3" x2="42.74" y2="329.8" stroke="#484848" stroke-width="0.8"/>
<line x1="42.74" y1="192.5" x2="42.74" y2="195.0" stroke="#484848" stroke-width="0.8"/>
<line x1="69.18" y1="332.3" x2="69.18" y2="329.8" stroke="#484848" stroke-width="0.8"/>
<line x1="69.18" y1="192.5" x2="69.18" y2="195.0" stroke="#484848" stroke-width="0.8"/>
<line x1="95.62" y1="332.3" x2="95.62" y2="329.8" stroke="#484848" stroke-width="0.8"/>
<line x1="95.62" y1="192.5" x2="95.62" y2="195.0" stroke="#484848" stroke-width="0.8"/>
<line x1="122.06" y1="332.3" x2="122.06" y2="329.8" stroke="#484848" stroke-width="0.8"/>
<line x1="122.06" y1="192.5" x2="122.06" y2="195.0" stroke="#484848" stroke-width="0.8"/>
<line x1="148.50" y1="332.3" x2="148.50" y2="329.8" stroke="#484848" stroke-width="0.8"/>
<line x1="148.50" y1="192.5" x2="148.50" y2="195.0" stroke="#484848" stroke-width="0.8"/>
<line x1="174.94" y1="332.3" x2="174.94" y2="329.8" stroke="#484848" stroke-width="0.8"/>
<line x1="174.94" y1="192.5" x2="174.94" y2="195.0" stroke="#484848" stroke-width="0.8"/>
<line x1="201.38" y1="332.3" x2="201.38" y2="329.8" stroke="#484848" stroke-width="0.8"/>
<line x1="201.38" y1="192.5" x2="201.38" y2="195.0" stroke="#484848" stroke-width="0.8"/>
<line x1="16.8" y1="239.10" x2="19.3" y2="239.10" stroke="#484848" stroke-width="0.8"/>
<line x1="227.4" y1="239.10" x2="224.9" y2="239.10" stroke="#484848" stroke-width="0.8"/>
<line x1="16.8" y1="285.70" x2="19.3" y2="285.70" stroke="#484848" stroke-width="0.8"/>
<line x1="227.4" y1="285.70" x2="224.9" y2="285.70" stroke="#484848" stroke-width="0.8"/>
<text x="16.0" y="340.8" font-size="5" fill="#3c3c48" text-anchor="middle">0</text>
<text x="42.4" y="340.8" font-size="5" fill="#3c3c48" text-anchor="middle">0.2</text>
<text x="68.9" y="340.8" font-size="5" fill="#3c3c48" text-anchor="middle">0.4</text>
<text x="95.3" y="340.8" font-size="5" fill="#3c3c48" text-anchor="middle">0.6</text>
<text x="121.8" y="340.8" font-size="5" fill="#3c3c48" text-anchor="middle">0.8</text>
<text x="148.2" y="340.8" font-size="5" fill="#3c3c48" text-anchor="middle">1</text>
<text x="174.6" y="340.8" font-size="5" fill="#3c3c48" text-anchor="middle">1.2</text>
<text x="201.1" y="340.8" font-size="5" fill="#3c3c48" text-anchor="middle">1.4</text>
<text x="227.5" y="340.8" font-size="5" fill="#3c3c48" text-anchor="middle">1.6</text>
<text x="67.7" y="349.0" font-size="5.2" fill="#3c3c48" textLength="108.0" lengthAdjust="spacingAndGlyphs">Temp. change (2011-2021 minus 1980-1990) [°C]</text>
<text x="22.1" y="208.5" font-size="12.8" font-weight="bold" fill="#000">d</text>
<text x="174.9" y="201.7" font-size="5" fill="#2a2a38" textLength="32.0" lengthAdjust="spacingAndGlyphs">Low ECS GCMs</text>
<line x1="209.75" y1="199.10" x2="222.25" y2="199.10" stroke="#0000ff" stroke-width="1.9" stroke-linecap="round"/>
<text x="167.8" y="207.1" font-size="5" fill="#2a2a38" textLength="39.1" lengthAdjust="spacingAndGlyphs">Medium ECS GCMs</text>
<line x1="209.75" y1="204.55" x2="222.25" y2="204.55" stroke="#bd80ff" stroke-width="1.9" stroke-linecap="round"/>
<text x="173.9" y="212.6" font-size="5" fill="#2a2a38" textLength="33.0" lengthAdjust="spacingAndGlyphs">High ECS GCMs</text>
<line x1="209.75" y1="210.00" x2="222.25" y2="210.00" stroke="#ff0000" stroke-width="1.9" stroke-linecap="round"/>
<line x1="269.62" y1="193.6" x2="269.62" y2="333.3" stroke="#f0f0f0" stroke-width="0.8"/>
<line x1="295.94" y1="193.6" x2="295.94" y2="333.3" stroke="#f0f0f0" stroke-width="0.8"/>
<line x1="322.26" y1="193.6" x2="322.26" y2="333.3" stroke="#f0f0f0" stroke-width="0.8"/>
<line x1="348.58" y1="193.6" x2="348.58" y2="333.3" stroke="#f0f0f0" stroke-width="0.8"/>
<line x1="374.90" y1="193.6" x2="374.90" y2="333.3" stroke="#f0f0f0" stroke-width="0.8"/>
<line x1="401.22" y1="193.6" x2="401.22" y2="333.3" stroke="#f0f0f0" stroke-width="0.8"/>
<line x1="427.54" y1="193.6" x2="427.54" y2="333.3" stroke="#f0f0f0" stroke-width="0.8"/>
<line x1="243.2" y1="240.17" x2="453.6" y2="240.17" stroke="#f0f0f0" stroke-width="0.8"/>
<line x1="243.2" y1="286.73" x2="453.6" y2="286.73" stroke="#f0f0f0" stroke-width="0.8"/>
<line x1="283.6" y1="216.88" x2="302.3" y2="216.88" stroke="#555555" stroke-width="0.8"/>
<line x1="339.6" y1="216.88" x2="357.4" y2="216.88" stroke="#555555" stroke-width="0.8"/>
<line x1="302.3" y1="216.88" x2="309.2" y2="216.88" stroke="#303030" stroke-width="0.9"/>
<line x1="333.6" y1="216.88" x2="339.6" y2="216.88" stroke="#303030" stroke-width="0.9"/>
<line x1="283.6" y1="214.48" x2="283.6" y2="219.28" stroke="#808080" stroke-width="0.8"/>
<line x1="302.3" y1="214.48" x2="302.3" y2="219.28" stroke="#808080" stroke-width="0.8"/>
<line x1="339.6" y1="214.48" x2="339.6" y2="219.28" stroke="#808080" stroke-width="0.8"/>
<line x1="357.4" y1="214.48" x2="357.4" y2="219.28" stroke="#808080" stroke-width="0.8"/>
<line x1="311.4" y1="263.45" x2="327.7" y2="263.45" stroke="#555555" stroke-width="0.8"/>
<line x1="365.7" y1="263.45" x2="382.3" y2="263.45" stroke="#555555" stroke-width="0.8"/>
<line x1="327.7" y1="263.45" x2="334.2" y2="263.45" stroke="#303030" stroke-width="0.9"/>
<line x1="358.7" y1="263.45" x2="365.7" y2="263.45" stroke="#303030" stroke-width="0.9"/>
<line x1="311.4" y1="261.05" x2="311.4" y2="265.85" stroke="#808080" stroke-width="0.8"/>
<line x1="327.7" y1="261.05" x2="327.7" y2="265.85" stroke="#808080" stroke-width="0.8"/>
<line x1="365.7" y1="261.05" x2="365.7" y2="265.85" stroke="#808080" stroke-width="0.8"/>
<line x1="382.3" y1="261.05" x2="382.3" y2="265.85" stroke="#808080" stroke-width="0.8"/>
<line x1="314.2" y1="310.02" x2="333.7" y2="310.02" stroke="#555555" stroke-width="0.8"/>
<line x1="403.0" y1="310.02" x2="422.5" y2="310.02" stroke="#555555" stroke-width="0.8"/>
<line x1="333.7" y1="310.02" x2="342.6" y2="310.02" stroke="#303030" stroke-width="0.9"/>
<line x1="392.5" y1="310.02" x2="403.0" y2="310.02" stroke="#303030" stroke-width="0.9"/>
<line x1="314.2" y1="307.62" x2="314.2" y2="312.42" stroke="#808080" stroke-width="0.8"/>
<line x1="333.7" y1="307.62" x2="333.7" y2="312.42" stroke="#808080" stroke-width="0.8"/>
<line x1="403.0" y1="307.62" x2="403.0" y2="312.42" stroke="#808080" stroke-width="0.8"/>
<line x1="422.5" y1="307.62" x2="422.5" y2="312.42" stroke="#808080" stroke-width="0.8"/>
<rect x="294.50" y="193.6" width="3.10" height="139.7" fill="#2fae7c"/>
<rect x="295.10" y="193.6" width="2.00" height="139.7" fill="#25c95a"/>
<rect x="310.80" y="193.6" width="3.20" height="139.7" fill="#2fae7c"/>
<rect x="310.80" y="193.6" width="2.30" height="139.7" fill="#1fd055"/>
<rect x="316.50" y="193.6" width="4.20" height="139.7" fill="#2cb476"/>
<rect x="317.40" y="193.6" width="3.30" height="139.7" fill="#05cc42"/>
<rect x="309.2" y="205.18" width="24.40" height="23.4" fill="#0000ff" stroke="#333" stroke-width="0.7"/>
<line x1="321.3" y1="205.18" x2="321.3" y2="228.58" stroke="#222" stroke-width="0.8"/>
<rect x="334.2" y="251.75" width="24.50" height="23.4" fill="#ee82ee" stroke="#333" stroke-width="0.7"/>
<line x1="346.4" y1="251.75" x2="346.4" y2="275.15" stroke="#222" stroke-width="0.8"/>
<rect x="342.6" y="298.32" width="49.90" height="23.4" fill="#ff0000" stroke="#333" stroke-width="0.7"/>
<line x1="364.6" y1="298.32" x2="364.6" y2="321.72" stroke="#222" stroke-width="0.8"/>
<rect x="243.2" y="193.6" width="210.40" height="139.70" fill="none" stroke="#484848" stroke-width="1"/>
<line x1="269.62" y1="333.3" x2="269.62" y2="330.8" stroke="#484848" stroke-width="0.8"/>
<line x1="269.62" y1="193.6" x2="269.62" y2="196.1" stroke="#484848" stroke-width="0.8"/>
<line x1="295.94" y1="333.3" x2="295.94" y2="330.8" stroke="#484848" stroke-width="0.8"/>
<line x1="295.94" y1="193.6" x2="295.94" y2="196.1" stroke="#484848" stroke-width="0.8"/>
<line x1="322.26" y1="333.3" x2="322.26" y2="330.8" stroke="#484848" stroke-width="0.8"/>
<line x1="322.26" y1="193.6" x2="322.26" y2="196.1" stroke="#484848" stroke-width="0.8"/>
<line x1="348.58" y1="333.3" x2="348.58" y2="330.8" stroke="#484848" stroke-width="0.8"/>
<line x1="348.58" y1="193.6" x2="348.58" y2="196.1" stroke="#484848" stroke-width="0.8"/>
<line x1="374.90" y1="333.3" x2="374.90" y2="330.8" stroke="#484848" stroke-width="0.8"/>
<line x1="374.90" y1="193.6" x2="374.90" y2="196.1" stroke="#484848" stroke-width="0.8"/>
<line x1="401.22" y1="333.3" x2="401.22" y2="330.8" stroke="#484848" stroke-width="0.8"/>
<line x1="401.22" y1="193.6" x2="401.22" y2="196.1" stroke="#484848" stroke-width="0.8"/>
<line x1="427.54" y1="333.3" x2="427.54" y2="330.8" stroke="#484848" stroke-width="0.8"/>
<line x1="427.54" y1="193.6" x2="427.54" y2="196.1" stroke="#484848" stroke-width="0.8"/>
<line x1="243.2" y1="240.17" x2="245.7" y2="240.17" stroke="#484848" stroke-width="0.8"/>
<line x1="453.6" y1="240.17" x2="451.1" y2="240.17" stroke="#484848" stroke-width="0.8"/>
<line x1="243.2" y1="286.73" x2="245.7" y2="286.73" stroke="#484848" stroke-width="0.8"/>
<line x1="453.6" y1="286.73" x2="451.1" y2="286.73" stroke="#484848" stroke-width="0.8"/>
<text x="242.1" y="340.8" font-size="5" fill="#3c3c48" text-anchor="middle">0</text>
<text x="268.4" y="340.8" font-size="5" fill="#3c3c48" text-anchor="middle">0.2</text>
<text x="294.7" y="340.8" font-size="5" fill="#3c3c48" text-anchor="middle">0.4</text>
<text x="321.1" y="340.8" font-size="5" fill="#3c3c48" text-anchor="middle">0.6</text>
<text x="347.4" y="340.8" font-size="5" fill="#3c3c48" text-anchor="middle">0.8</text>
<text x="373.7" y="340.8" font-size="5" fill="#3c3c48" text-anchor="middle">1</text>
<text x="400.0" y="340.8" font-size="5" fill="#3c3c48" text-anchor="middle">1.2</text>
<text x="426.3" y="340.8" font-size="5" fill="#3c3c48" text-anchor="middle">1.4</text>
<text x="452.7" y="340.8" font-size="5" fill="#3c3c48" text-anchor="middle">1.6</text>
<text x="293.2" y="349.0" font-size="5.2" fill="#3c3c48" textLength="108.4" lengthAdjust="spacingAndGlyphs">Temp. change (2011-2021 minus 1980-1990) [°C]</text>
<text x="248.5" y="209.6" font-size="12.8" font-weight="bold" fill="#000">e</text>
<text x="401.3" y="203.0" font-size="5" fill="#2a2a38" textLength="32.0" lengthAdjust="spacingAndGlyphs">Low ECS GCMs</text>
<line x1="436.15" y1="200.40" x2="448.65" y2="200.40" stroke="#0000ff" stroke-width="1.9" stroke-linecap="round"/>
<text x="394.2" y="208.4" font-size="5" fill="#2a2a38" textLength="39.1" lengthAdjust="spacingAndGlyphs">Medium ECS GCMs</text>
<line x1="436.15" y1="205.85" x2="448.65" y2="205.85" stroke="#bd80ff" stroke-width="1.9" stroke-linecap="round"/>
<text x="400.3" y="213.9" font-size="5" fill="#2a2a38" textLength="33.0" lengthAdjust="spacingAndGlyphs">High ECS GCMs</text>
<line x1="436.15" y1="211.30" x2="448.65" y2="211.30" stroke="#ff0000" stroke-width="1.9" stroke-linecap="round"/>
<line x1="497.00" y1="192.5" x2="497.00" y2="332.3" stroke="#f0f0f0" stroke-width="0.8"/>
<line x1="523.50" y1="192.5" x2="523.50" y2="332.3" stroke="#f0f0f0" stroke-width="0.8"/>
<line x1="550.00" y1="192.5" x2="550.00" y2="332.3" stroke="#f0f0f0" stroke-width="0.8"/>
<line x1="576.50" y1="192.5" x2="576.50" y2="332.3" stroke="#f0f0f0" stroke-width="0.8"/>
<line x1="603.00" y1="192.5" x2="603.00" y2="332.3" stroke="#f0f0f0" stroke-width="0.8"/>
<line x1="629.50" y1="192.5" x2="629.50" y2="332.3" stroke="#f0f0f0" stroke-width="0.8"/>
<line x1="656.00" y1="192.5" x2="656.00" y2="332.3" stroke="#f0f0f0" stroke-width="0.8"/>
<line x1="471.0" y1="239.10" x2="681.6" y2="239.10" stroke="#f0f0f0" stroke-width="0.8"/>
<line x1="471.0" y1="285.70" x2="681.6" y2="285.70" stroke="#f0f0f0" stroke-width="0.8"/>
<line x1="501.9" y1="215.80" x2="524.7" y2="215.80" stroke="#555555" stroke-width="0.8"/>
<line x1="573.6" y1="215.80" x2="595.5" y2="215.80" stroke="#555555" stroke-width="0.8"/>
<line x1="524.7" y1="215.80" x2="533.8" y2="215.80" stroke="#303030" stroke-width="0.9"/>
<line x1="564.8" y1="215.80" x2="573.6" y2="215.80" stroke="#303030" stroke-width="0.9"/>
<line x1="501.9" y1="213.40" x2="501.9" y2="218.20" stroke="#808080" stroke-width="0.8"/>
<line x1="524.7" y1="213.40" x2="524.7" y2="218.20" stroke="#808080" stroke-width="0.8"/>
<line x1="573.6" y1="213.40" x2="573.6" y2="218.20" stroke="#808080" stroke-width="0.8"/>
<line x1="595.5" y1="213.40" x2="595.5" y2="218.20" stroke="#808080" stroke-width="0.8"/>
<line x1="528.4" y1="262.40" x2="550.4" y2="262.40" stroke="#555555" stroke-width="0.8"/>
<line x1="598.2" y1="262.40" x2="620.6" y2="262.40" stroke="#555555" stroke-width="0.8"/>
<line x1="550.4" y1="262.40" x2="559.3" y2="262.40" stroke="#303030" stroke-width="0.9"/>
<line x1="589.7" y1="262.40" x2="598.2" y2="262.40" stroke="#303030" stroke-width="0.9"/>
<line x1="528.4" y1="260.00" x2="528.4" y2="264.80" stroke="#808080" stroke-width="0.8"/>
<line x1="550.4" y1="260.00" x2="550.4" y2="264.80" stroke="#808080" stroke-width="0.8"/>
<line x1="598.2" y1="260.00" x2="598.2" y2="264.80" stroke="#808080" stroke-width="0.8"/>
<line x1="620.6" y1="260.00" x2="620.6" y2="264.80" stroke="#808080" stroke-width="0.8"/>
<line x1="532.8" y1="309.00" x2="558.9" y2="309.00" stroke="#555555" stroke-width="0.8"/>
<line x1="632.3" y1="309.00" x2="658.6" y2="309.00" stroke="#555555" stroke-width="0.8"/>
<line x1="558.9" y1="309.00" x2="570.0" y2="309.00" stroke="#303030" stroke-width="0.9"/>
<line x1="619.8" y1="309.00" x2="632.3" y2="309.00" stroke="#303030" stroke-width="0.9"/>
<line x1="532.8" y1="306.60" x2="532.8" y2="311.40" stroke="#808080" stroke-width="0.8"/>
<line x1="558.9" y1="306.60" x2="558.9" y2="311.40" stroke="#808080" stroke-width="0.8"/>
<line x1="632.3" y1="306.60" x2="632.3" y2="311.40" stroke="#808080" stroke-width="0.8"/>
<line x1="658.6" y1="306.60" x2="658.6" y2="311.40" stroke="#808080" stroke-width="0.8"/>
<rect x="522.30" y="192.5" width="3.10" height="139.8" fill="#2fae7c"/>
<rect x="522.90" y="192.5" width="2.00" height="139.8" fill="#25c95a"/>
<rect x="538.60" y="192.5" width="3.20" height="139.8" fill="#2fae7c"/>
<rect x="538.60" y="192.5" width="2.30" height="139.8" fill="#1fd055"/>
<rect x="544.30" y="192.5" width="4.20" height="139.8" fill="#2cb476"/>
<rect x="545.20" y="192.5" width="3.30" height="139.8" fill="#05cc42"/>
<rect x="533.8" y="204.10" width="31.00" height="23.4" fill="#0000ff" stroke="#333" stroke-width="0.7"/>
<line x1="548.3" y1="204.10" x2="548.3" y2="227.50" stroke="#222" stroke-width="0.8"/>
<rect x="559.3" y="250.70" width="30.40" height="23.4" fill="#ee82ee" stroke="#333" stroke-width="0.7"/>
<line x1="574.5" y1="250.70" x2="574.5" y2="274.10" stroke="#222" stroke-width="0.8"/>
<rect x="570.0" y="297.30" width="49.80" height="23.4" fill="#ff0000" stroke="#333" stroke-width="0.7"/>
<line x1="593.4" y1="297.30" x2="593.4" y2="320.70" stroke="#222" stroke-width="0.8"/>
<rect x="471.0" y="192.5" width="210.60" height="139.80" fill="none" stroke="#484848" stroke-width="1"/>
<line x1="497.00" y1="332.3" x2="497.00" y2="329.8" stroke="#484848" stroke-width="0.8"/>
<line x1="497.00" y1="192.5" x2="497.00" y2="195.0" stroke="#484848" stroke-width="0.8"/>
<line x1="523.50" y1="332.3" x2="523.50" y2="329.8" stroke="#484848" stroke-width="0.8"/>
<line x1="523.50" y1="192.5" x2="523.50" y2="195.0" stroke="#484848" stroke-width="0.8"/>
<line x1="550.00" y1="332.3" x2="550.00" y2="329.8" stroke="#484848" stroke-width="0.8"/>
<line x1="550.00" y1="192.5" x2="550.00" y2="195.0" stroke="#484848" stroke-width="0.8"/>
<line x1="576.50" y1="332.3" x2="576.50" y2="329.8" stroke="#484848" stroke-width="0.8"/>
<line x1="576.50" y1="192.5" x2="576.50" y2="195.0" stroke="#484848" stroke-width="0.8"/>
<line x1="603.00" y1="332.3" x2="603.00" y2="329.8" stroke="#484848" stroke-width="0.8"/>
<line x1="603.00" y1="192.5" x2="603.00" y2="195.0" stroke="#484848" stroke-width="0.8"/>
<line x1="629.50" y1="332.3" x2="629.50" y2="329.8" stroke="#484848" stroke-width="0.8"/>
<line x1="629.50" y1="192.5" x2="629.50" y2="195.0" stroke="#484848" stroke-width="0.8"/>
<line x1="656.00" y1="332.3" x2="656.00" y2="329.8" stroke="#484848" stroke-width="0.8"/>
<line x1="656.00" y1="192.5" x2="656.00" y2="195.0" stroke="#484848" stroke-width="0.8"/>
<line x1="471.0" y1="239.10" x2="473.5" y2="239.10" stroke="#484848" stroke-width="0.8"/>
<line x1="681.6" y1="239.10" x2="679.1" y2="239.10" stroke="#484848" stroke-width="0.8"/>
<line x1="471.0" y1="285.70" x2="473.5" y2="285.70" stroke="#484848" stroke-width="0.8"/>
<line x1="681.6" y1="285.70" x2="679.1" y2="285.70" stroke="#484848" stroke-width="0.8"/>
<text x="470.0" y="340.8" font-size="5" fill="#3c3c48" text-anchor="middle">0</text>
<text x="496.5" y="340.8" font-size="5" fill="#3c3c48" text-anchor="middle">0.2</text>
<text x="523.0" y="340.8" font-size="5" fill="#3c3c48" text-anchor="middle">0.4</text>
<text x="549.5" y="340.8" font-size="5" fill="#3c3c48" text-anchor="middle">0.6</text>
<text x="576.0" y="340.8" font-size="5" fill="#3c3c48" text-anchor="middle">0.8</text>
<text x="602.5" y="340.8" font-size="5" fill="#3c3c48" text-anchor="middle">1</text>
<text x="629.0" y="340.8" font-size="5" fill="#3c3c48" text-anchor="middle">1.2</text>
<text x="655.5" y="340.8" font-size="5" fill="#3c3c48" text-anchor="middle">1.4</text>
<text x="682.0" y="340.8" font-size="5" fill="#3c3c48" text-anchor="middle">1.6</text>
<text x="520.2" y="349.0" font-size="5.2" fill="#3c3c48" textLength="108.0" lengthAdjust="spacingAndGlyphs">Temp. change (2011-2021 minus 1980-1990) [°C]</text>
<text x="476.3" y="208.5" font-size="12.8" font-weight="bold" fill="#000">f</text>
<text x="627.9" y="202.1" font-size="5" fill="#2a2a38" textLength="32.0" lengthAdjust="spacingAndGlyphs">Low ECS GCMs</text>
<line x1="662.75" y1="199.50" x2="675.25" y2="199.50" stroke="#0000ff" stroke-width="1.9" stroke-linecap="round"/>
<text x="620.8" y="207.5" font-size="5" fill="#2a2a38" textLength="39.1" lengthAdjust="spacingAndGlyphs">Medium ECS GCMs</text>
<line x1="662.75" y1="204.95" x2="675.25" y2="204.95" stroke="#bd80ff" stroke-width="1.9" stroke-linecap="round"/>
<text x="626.9" y="213.0" font-size="5" fill="#2a2a38" textLength="33.0" lengthAdjust="spacingAndGlyphs">High ECS GCMs</text>
<line x1="662.75" y1="210.40" x2="675.25" y2="210.40" stroke="#ff0000" stroke-width="1.9" stroke-linecap="round"/>
</svg>
</body></html>
